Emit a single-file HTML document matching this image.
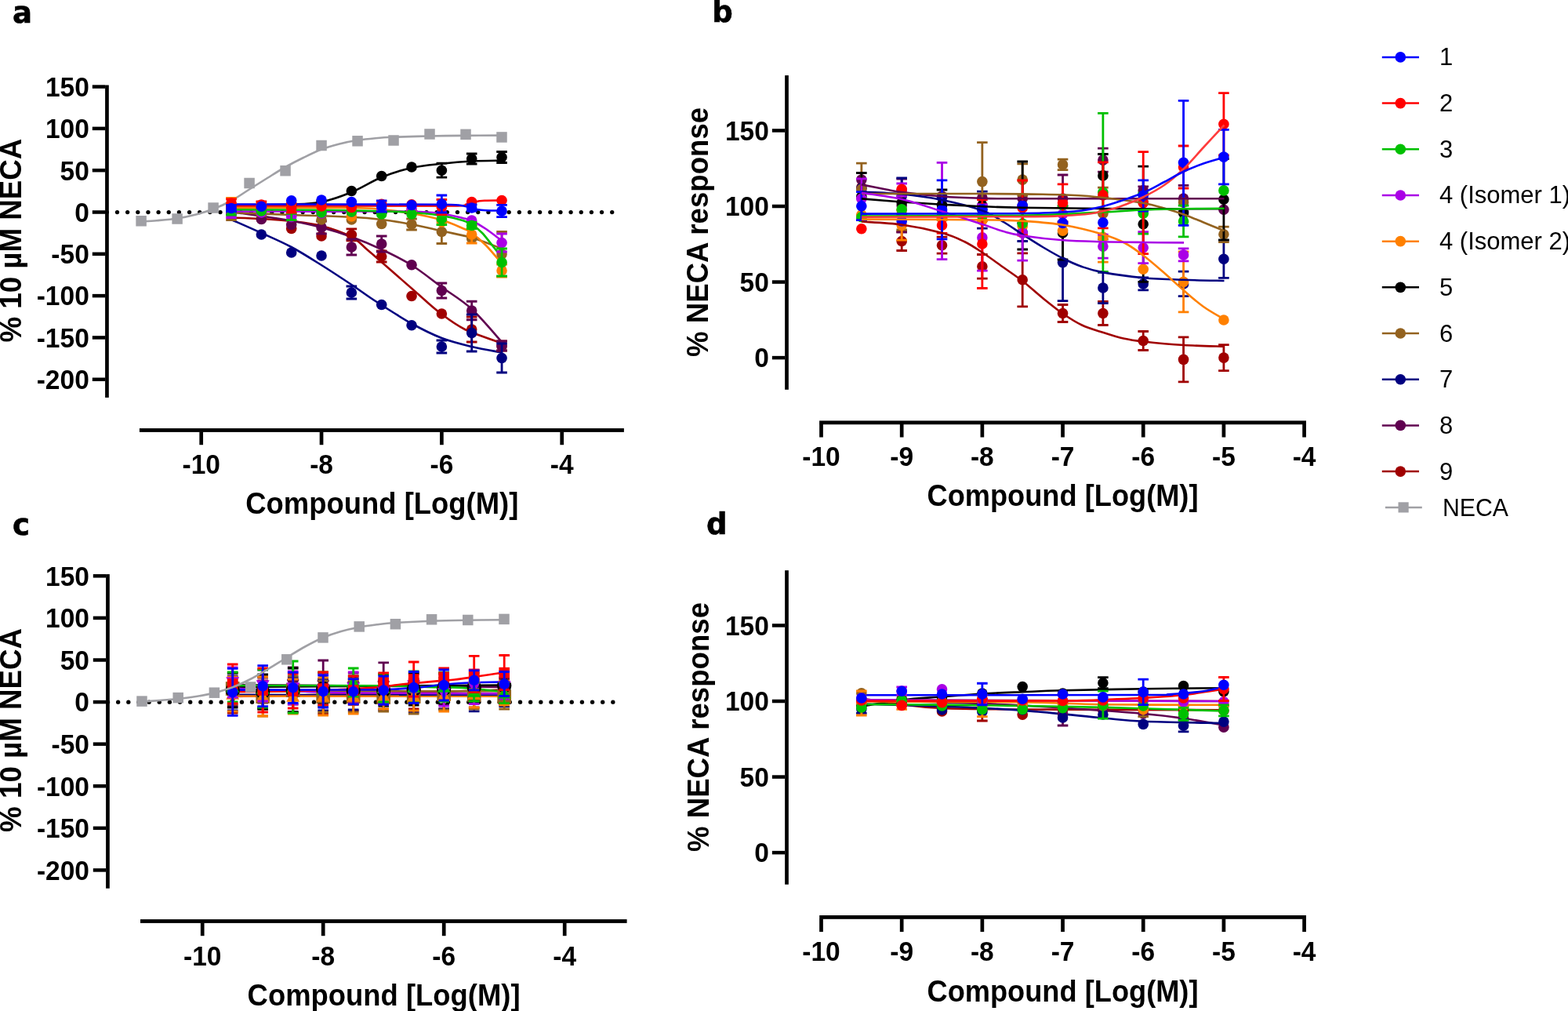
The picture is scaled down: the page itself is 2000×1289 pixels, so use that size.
<!DOCTYPE html><html><head><meta charset="utf-8"><title>Figure</title><style>html,body{margin:0;padding:0;background:#fff;overflow:hidden}svg{display:block}text{font-family:'Liberation Sans', Arial, Helvetica, sans-serif;fill:#000}</style></head><body>
<svg width="2000" height="1289" viewBox="0 0 2000 1289">
<rect width="100%" height="100%" fill="#fff"/>
<text transform="translate(15.9 29) scale(1 1)" font-size="37" font-weight="bold" style="font-family:'DejaVu Sans', sans-serif" stroke="#000" stroke-width="0.6">a</text>
<text transform="translate(908.2 28.4) scale(1 1)" font-size="37" font-weight="bold" style="font-family:'DejaVu Sans', sans-serif" stroke="#000" stroke-width="0.6">b</text>
<text transform="translate(15.9 682.3) scale(1 1)" font-size="37" font-weight="bold" style="font-family:'DejaVu Sans', sans-serif" stroke="#000" stroke-width="0.6">c</text>
<text transform="translate(900.9 681.4) scale(1 1)" font-size="37" font-weight="bold" style="font-family:'DejaVu Sans', sans-serif" stroke="#000" stroke-width="0.6">d</text>
<rect x="134.1" y="108.5" width="4.7" height="398.4" fill="#000"/>
<rect x="117.8" y="108.31" width="16.3" height="4.5" fill="#000"/>
<text transform="translate(113.8 122.91) scale(0.95 1)" font-size="35.3" font-weight="bold" text-anchor="end">150</text>
<rect x="117.8" y="161.62" width="16.3" height="4.5" fill="#000"/>
<text transform="translate(113.8 176.22) scale(0.95 1)" font-size="35.3" font-weight="bold" text-anchor="end">100</text>
<rect x="117.8" y="214.94" width="16.3" height="4.5" fill="#000"/>
<text transform="translate(113.8 229.54) scale(0.95 1)" font-size="35.3" font-weight="bold" text-anchor="end">50</text>
<rect x="117.8" y="268.25" width="16.3" height="4.5" fill="#000"/>
<text transform="translate(113.8 282.86) scale(0.95 1)" font-size="35.3" font-weight="bold" text-anchor="end">0</text>
<rect x="117.8" y="321.56" width="16.3" height="4.5" fill="#000"/>
<text transform="translate(113.8 336.17) scale(0.95 1)" font-size="35.3" font-weight="bold" text-anchor="end">-50</text>
<rect x="117.8" y="374.88" width="16.3" height="4.5" fill="#000"/>
<text transform="translate(113.8 389.49) scale(0.95 1)" font-size="35.3" font-weight="bold" text-anchor="end">-100</text>
<rect x="117.8" y="428.19" width="16.3" height="4.5" fill="#000"/>
<text transform="translate(113.8 442.8) scale(0.95 1)" font-size="35.3" font-weight="bold" text-anchor="end">-150</text>
<rect x="117.8" y="481.51" width="16.3" height="4.5" fill="#000"/>
<text transform="translate(113.8 496.12) scale(0.95 1)" font-size="35.3" font-weight="bold" text-anchor="end">-200</text>
<rect x="177.9" y="546.1" width="618" height="4.8" fill="#000"/>
<rect x="254.35" y="550.4" width="4.7" height="16.8" fill="#000"/>
<text transform="translate(256.7 604.2) scale(0.95 1)" font-size="35.3" font-weight="bold" text-anchor="middle">-10</text>
<rect x="407.69" y="550.4" width="4.7" height="16.8" fill="#000"/>
<text transform="translate(410.04 604.2) scale(0.95 1)" font-size="35.3" font-weight="bold" text-anchor="middle">-8</text>
<rect x="561.03" y="550.4" width="4.7" height="16.8" fill="#000"/>
<text transform="translate(563.38 604.2) scale(0.95 1)" font-size="35.3" font-weight="bold" text-anchor="middle">-6</text>
<rect x="714.37" y="550.4" width="4.7" height="16.8" fill="#000"/>
<text transform="translate(716.72 604.2) scale(0.95 1)" font-size="35.3" font-weight="bold" text-anchor="middle">-4</text>
<text x="487.3" y="654.8" font-size="38.5" font-weight="bold" text-anchor="middle" textLength="348" lengthAdjust="spacingAndGlyphs">Compound [Log(M)]</text>
<text transform="translate(26.7 306.6) rotate(-90)" font-size="38.5" font-weight="bold" text-anchor="middle" textLength="260" lengthAdjust="spacingAndGlyphs">% 10 µM NECA</text>
<circle cx="136.35" cy="270.6" r="2.65"/>
<circle cx="149.5" cy="270.6" r="2.65"/>
<circle cx="162.65" cy="270.6" r="2.65"/>
<circle cx="175.8" cy="270.6" r="2.65"/>
<circle cx="188.95" cy="270.6" r="2.65"/>
<circle cx="202.1" cy="270.6" r="2.65"/>
<circle cx="215.25" cy="270.6" r="2.65"/>
<circle cx="228.4" cy="270.6" r="2.65"/>
<circle cx="241.55" cy="270.6" r="2.65"/>
<circle cx="254.7" cy="270.6" r="2.65"/>
<circle cx="267.85" cy="270.6" r="2.65"/>
<circle cx="281" cy="270.6" r="2.65"/>
<circle cx="294.15" cy="270.6" r="2.65"/>
<circle cx="307.3" cy="270.6" r="2.65"/>
<circle cx="320.45" cy="270.6" r="2.65"/>
<circle cx="333.6" cy="270.6" r="2.65"/>
<circle cx="346.75" cy="270.6" r="2.65"/>
<circle cx="359.9" cy="270.6" r="2.65"/>
<circle cx="373.05" cy="270.6" r="2.65"/>
<circle cx="386.2" cy="270.6" r="2.65"/>
<circle cx="399.35" cy="270.6" r="2.65"/>
<circle cx="412.5" cy="270.6" r="2.65"/>
<circle cx="425.65" cy="270.6" r="2.65"/>
<circle cx="438.8" cy="270.6" r="2.65"/>
<circle cx="451.95" cy="270.6" r="2.65"/>
<circle cx="465.1" cy="270.6" r="2.65"/>
<circle cx="478.25" cy="270.6" r="2.65"/>
<circle cx="491.4" cy="270.6" r="2.65"/>
<circle cx="504.55" cy="270.6" r="2.65"/>
<circle cx="517.7" cy="270.6" r="2.65"/>
<circle cx="530.85" cy="270.6" r="2.65"/>
<circle cx="544" cy="270.6" r="2.65"/>
<circle cx="557.15" cy="270.6" r="2.65"/>
<circle cx="570.3" cy="270.6" r="2.65"/>
<circle cx="583.45" cy="270.6" r="2.65"/>
<circle cx="596.6" cy="270.6" r="2.65"/>
<circle cx="609.75" cy="270.6" r="2.65"/>
<circle cx="622.9" cy="270.6" r="2.65"/>
<circle cx="636.05" cy="270.6" r="2.65"/>
<circle cx="649.2" cy="270.6" r="2.65"/>
<circle cx="662.35" cy="270.6" r="2.65"/>
<circle cx="675.5" cy="270.6" r="2.65"/>
<circle cx="688.65" cy="270.6" r="2.65"/>
<circle cx="701.8" cy="270.6" r="2.65"/>
<circle cx="714.95" cy="270.6" r="2.65"/>
<circle cx="728.1" cy="270.6" r="2.65"/>
<circle cx="741.25" cy="270.6" r="2.65"/>
<circle cx="754.4" cy="270.6" r="2.65"/>
<circle cx="767.55" cy="270.6" r="2.65"/>
<circle cx="780.7" cy="270.6" r="2.65"/>
<rect x="1001.15" y="96.1" width="4.7" height="400.7" fill="#000"/>
<rect x="984.85" y="164.2" width="16.3" height="4.5" fill="#000"/>
<text transform="translate(980.8 178.8) scale(0.95 1)" font-size="35.3" font-weight="bold" text-anchor="end">150</text>
<rect x="984.85" y="260.75" width="16.3" height="4.5" fill="#000"/>
<text transform="translate(980.8 275.36) scale(0.95 1)" font-size="35.3" font-weight="bold" text-anchor="end">100</text>
<rect x="984.85" y="357.3" width="16.3" height="4.5" fill="#000"/>
<text transform="translate(980.8 371.91) scale(0.95 1)" font-size="35.3" font-weight="bold" text-anchor="end">50</text>
<rect x="984.85" y="453.85" width="16.3" height="4.5" fill="#000"/>
<text transform="translate(980.8 468.46) scale(0.95 1)" font-size="35.3" font-weight="bold" text-anchor="end">0</text>
<rect x="1045.1" y="536.4" width="620.9" height="4.8" fill="#000"/>
<rect x="1045.15" y="540.7" width="4.7" height="16.8" fill="#000"/>
<text transform="translate(1047.5 594.2) scale(0.95 1)" font-size="35.3" font-weight="bold" text-anchor="middle">-10</text>
<rect x="1147.83" y="540.7" width="4.7" height="16.8" fill="#000"/>
<text transform="translate(1150.18 594.2) scale(0.95 1)" font-size="35.3" font-weight="bold" text-anchor="middle">-9</text>
<rect x="1250.51" y="540.7" width="4.7" height="16.8" fill="#000"/>
<text transform="translate(1252.86 594.2) scale(0.95 1)" font-size="35.3" font-weight="bold" text-anchor="middle">-8</text>
<rect x="1353.19" y="540.7" width="4.7" height="16.8" fill="#000"/>
<text transform="translate(1355.54 594.2) scale(0.95 1)" font-size="35.3" font-weight="bold" text-anchor="middle">-7</text>
<rect x="1455.87" y="540.7" width="4.7" height="16.8" fill="#000"/>
<text transform="translate(1458.22 594.2) scale(0.95 1)" font-size="35.3" font-weight="bold" text-anchor="middle">-6</text>
<rect x="1558.55" y="540.7" width="4.7" height="16.8" fill="#000"/>
<text transform="translate(1560.9 594.2) scale(0.95 1)" font-size="35.3" font-weight="bold" text-anchor="middle">-5</text>
<rect x="1661.23" y="540.7" width="4.7" height="16.8" fill="#000"/>
<text transform="translate(1663.58 594.2) scale(0.95 1)" font-size="35.3" font-weight="bold" text-anchor="middle">-4</text>
<text x="1355.5" y="645.2" font-size="38.5" font-weight="bold" text-anchor="middle" textLength="346" lengthAdjust="spacingAndGlyphs">Compound [Log(M)]</text>
<text transform="translate(903 295.9) rotate(-90)" font-size="38.5" font-weight="bold" text-anchor="middle" textLength="318" lengthAdjust="spacingAndGlyphs">% NECA response</text>
<rect x="135.1" y="732.1" width="4.7" height="400.6" fill="#000"/>
<rect x="118.8" y="732.07" width="16.3" height="4.5" fill="#000"/>
<text transform="translate(114 746.67) scale(0.95 1)" font-size="35.3" font-weight="bold" text-anchor="end">150</text>
<rect x="118.8" y="785.65" width="16.3" height="4.5" fill="#000"/>
<text transform="translate(114 800.26) scale(0.95 1)" font-size="35.3" font-weight="bold" text-anchor="end">100</text>
<rect x="118.8" y="839.24" width="16.3" height="4.5" fill="#000"/>
<text transform="translate(114 853.84) scale(0.95 1)" font-size="35.3" font-weight="bold" text-anchor="end">50</text>
<rect x="118.8" y="892.82" width="16.3" height="4.5" fill="#000"/>
<text transform="translate(114 907.43) scale(0.95 1)" font-size="35.3" font-weight="bold" text-anchor="end">0</text>
<rect x="118.8" y="946.41" width="16.3" height="4.5" fill="#000"/>
<text transform="translate(114 961.01) scale(0.95 1)" font-size="35.3" font-weight="bold" text-anchor="end">-50</text>
<rect x="118.8" y="999.99" width="16.3" height="4.5" fill="#000"/>
<text transform="translate(114 1014.6) scale(0.95 1)" font-size="35.3" font-weight="bold" text-anchor="end">-100</text>
<rect x="118.8" y="1053.58" width="16.3" height="4.5" fill="#000"/>
<text transform="translate(114 1068.18) scale(0.95 1)" font-size="35.3" font-weight="bold" text-anchor="end">-150</text>
<rect x="118.8" y="1107.16" width="16.3" height="4.5" fill="#000"/>
<text transform="translate(114 1121.77) scale(0.95 1)" font-size="35.3" font-weight="bold" text-anchor="end">-200</text>
<rect x="179" y="1172.1" width="620.6" height="4.8" fill="#000"/>
<rect x="255.85" y="1176.4" width="4.7" height="16.8" fill="#000"/>
<text transform="translate(258.2 1230.5) scale(0.95 1)" font-size="35.3" font-weight="bold" text-anchor="middle">-10</text>
<rect x="409.85" y="1176.4" width="4.7" height="16.8" fill="#000"/>
<text transform="translate(412.2 1230.5) scale(0.95 1)" font-size="35.3" font-weight="bold" text-anchor="middle">-8</text>
<rect x="563.85" y="1176.4" width="4.7" height="16.8" fill="#000"/>
<text transform="translate(566.2 1230.5) scale(0.95 1)" font-size="35.3" font-weight="bold" text-anchor="middle">-6</text>
<rect x="717.85" y="1176.4" width="4.7" height="16.8" fill="#000"/>
<text transform="translate(720.2 1230.5) scale(0.95 1)" font-size="35.3" font-weight="bold" text-anchor="middle">-4</text>
<text x="489.6" y="1281.7" font-size="38.5" font-weight="bold" text-anchor="middle" textLength="348" lengthAdjust="spacingAndGlyphs">Compound [Log(M)]</text>
<text transform="translate(26.7 930.9) rotate(-90)" font-size="38.5" font-weight="bold" text-anchor="middle" textLength="260" lengthAdjust="spacingAndGlyphs">% 10 µM NECA</text>
<circle cx="137.5" cy="895.2" r="2.65"/>
<circle cx="150.65" cy="895.2" r="2.65"/>
<circle cx="163.8" cy="895.2" r="2.65"/>
<circle cx="176.95" cy="895.2" r="2.65"/>
<circle cx="190.1" cy="895.2" r="2.65"/>
<circle cx="203.25" cy="895.2" r="2.65"/>
<circle cx="216.4" cy="895.2" r="2.65"/>
<circle cx="229.55" cy="895.2" r="2.65"/>
<circle cx="242.7" cy="895.2" r="2.65"/>
<circle cx="255.85" cy="895.2" r="2.65"/>
<circle cx="269" cy="895.2" r="2.65"/>
<circle cx="282.15" cy="895.2" r="2.65"/>
<circle cx="295.3" cy="895.2" r="2.65"/>
<circle cx="308.45" cy="895.2" r="2.65"/>
<circle cx="321.6" cy="895.2" r="2.65"/>
<circle cx="334.75" cy="895.2" r="2.65"/>
<circle cx="347.9" cy="895.2" r="2.65"/>
<circle cx="361.05" cy="895.2" r="2.65"/>
<circle cx="374.2" cy="895.2" r="2.65"/>
<circle cx="387.35" cy="895.2" r="2.65"/>
<circle cx="400.5" cy="895.2" r="2.65"/>
<circle cx="413.65" cy="895.2" r="2.65"/>
<circle cx="426.8" cy="895.2" r="2.65"/>
<circle cx="439.95" cy="895.2" r="2.65"/>
<circle cx="453.1" cy="895.2" r="2.65"/>
<circle cx="466.25" cy="895.2" r="2.65"/>
<circle cx="479.4" cy="895.2" r="2.65"/>
<circle cx="492.55" cy="895.2" r="2.65"/>
<circle cx="505.7" cy="895.2" r="2.65"/>
<circle cx="518.85" cy="895.2" r="2.65"/>
<circle cx="532" cy="895.2" r="2.65"/>
<circle cx="545.15" cy="895.2" r="2.65"/>
<circle cx="558.3" cy="895.2" r="2.65"/>
<circle cx="571.45" cy="895.2" r="2.65"/>
<circle cx="584.6" cy="895.2" r="2.65"/>
<circle cx="597.75" cy="895.2" r="2.65"/>
<circle cx="610.9" cy="895.2" r="2.65"/>
<circle cx="624.05" cy="895.2" r="2.65"/>
<circle cx="637.2" cy="895.2" r="2.65"/>
<circle cx="650.35" cy="895.2" r="2.65"/>
<circle cx="663.5" cy="895.2" r="2.65"/>
<circle cx="676.65" cy="895.2" r="2.65"/>
<circle cx="689.8" cy="895.2" r="2.65"/>
<circle cx="702.95" cy="895.2" r="2.65"/>
<circle cx="716.1" cy="895.2" r="2.65"/>
<circle cx="729.25" cy="895.2" r="2.65"/>
<circle cx="742.4" cy="895.2" r="2.65"/>
<circle cx="755.55" cy="895.2" r="2.65"/>
<circle cx="768.7" cy="895.2" r="2.65"/>
<circle cx="781.85" cy="895.2" r="2.65"/>
<rect x="1001.15" y="727.2" width="4.7" height="400.5" fill="#000"/>
<rect x="984.85" y="795.2" width="16.3" height="4.5" fill="#000"/>
<text transform="translate(980.8 809.8) scale(0.95 1)" font-size="35.3" font-weight="bold" text-anchor="end">150</text>
<rect x="984.85" y="891.75" width="16.3" height="4.5" fill="#000"/>
<text transform="translate(980.8 906.35) scale(0.95 1)" font-size="35.3" font-weight="bold" text-anchor="end">100</text>
<rect x="984.85" y="988.3" width="16.3" height="4.5" fill="#000"/>
<text transform="translate(980.8 1002.9) scale(0.95 1)" font-size="35.3" font-weight="bold" text-anchor="end">50</text>
<rect x="984.85" y="1084.85" width="16.3" height="4.5" fill="#000"/>
<text transform="translate(980.8 1099.45) scale(0.95 1)" font-size="35.3" font-weight="bold" text-anchor="end">0</text>
<rect x="1045.2" y="1167" width="620.8" height="4.8" fill="#000"/>
<rect x="1045.15" y="1171.3" width="4.7" height="16.8" fill="#000"/>
<text transform="translate(1047.5 1225.4) scale(0.95 1)" font-size="35.3" font-weight="bold" text-anchor="middle">-10</text>
<rect x="1147.83" y="1171.3" width="4.7" height="16.8" fill="#000"/>
<text transform="translate(1150.18 1225.4) scale(0.95 1)" font-size="35.3" font-weight="bold" text-anchor="middle">-9</text>
<rect x="1250.51" y="1171.3" width="4.7" height="16.8" fill="#000"/>
<text transform="translate(1252.86 1225.4) scale(0.95 1)" font-size="35.3" font-weight="bold" text-anchor="middle">-8</text>
<rect x="1353.19" y="1171.3" width="4.7" height="16.8" fill="#000"/>
<text transform="translate(1355.54 1225.4) scale(0.95 1)" font-size="35.3" font-weight="bold" text-anchor="middle">-7</text>
<rect x="1455.87" y="1171.3" width="4.7" height="16.8" fill="#000"/>
<text transform="translate(1458.22 1225.4) scale(0.95 1)" font-size="35.3" font-weight="bold" text-anchor="middle">-6</text>
<rect x="1558.55" y="1171.3" width="4.7" height="16.8" fill="#000"/>
<text transform="translate(1560.9 1225.4) scale(0.95 1)" font-size="35.3" font-weight="bold" text-anchor="middle">-5</text>
<rect x="1661.23" y="1171.3" width="4.7" height="16.8" fill="#000"/>
<text transform="translate(1663.58 1225.4) scale(0.95 1)" font-size="35.3" font-weight="bold" text-anchor="middle">-4</text>
<text x="1355.5" y="1276.6" font-size="38.5" font-weight="bold" text-anchor="middle" textLength="346" lengthAdjust="spacingAndGlyphs">Compound [Log(M)]</text>
<text transform="translate(904 927) rotate(-90)" font-size="38.5" font-weight="bold" text-anchor="middle" textLength="318" lengthAdjust="spacingAndGlyphs">% NECA response</text>
<path d="M180 282.5 C183.33 282.28 192.33 281.87 200 281.2 C207.67 280.53 217.67 279.78 226 278.5 C234.33 277.22 242.33 275.5 250 273.5 C257.67 271.5 264.5 269.42 272 266.5 C279.5 263.58 287.33 260.17 295 256 C302.67 251.83 310.33 246.33 318 241.5 C325.67 236.67 333.33 231.75 341 227 C348.67 222.25 356.33 217.33 364 213 C371.67 208.67 379.33 204.75 387 201 C394.67 197.25 402.33 193.42 410 190.5 C417.67 187.58 425.33 185.45 433 183.5 C440.67 181.55 448.33 180.02 456 178.8 C463.67 177.58 471.33 176.87 479 176.2 C486.67 175.53 490.5 175.25 502 174.8 C513.5 174.35 532.67 173.82 548 173.5 C563.33 173.18 578.67 173.05 594 172.9 C609.33 172.75 632.33 172.65 640 172.6" stroke="#a0a0a5" stroke-width="2.6" fill="none" stroke-linejoin="round"/>
<rect x="173.35" y="275" width="13.5" height="13.5" fill="#a0a0a5"/>
<rect x="219.34" y="272.25" width="13.5" height="13.5" fill="#a0a0a5"/>
<rect x="265.33" y="258.25" width="13.5" height="13.5" fill="#a0a0a5"/>
<rect x="311.32" y="226.75" width="13.5" height="13.5" fill="#a0a0a5"/>
<rect x="357.31" y="210.95" width="13.5" height="13.5" fill="#a0a0a5"/>
<rect x="403.3" y="178.75" width="13.5" height="13.5" fill="#a0a0a5"/>
<rect x="449.29" y="173.05" width="13.5" height="13.5" fill="#a0a0a5"/>
<rect x="495.28" y="172.25" width="13.5" height="13.5" fill="#a0a0a5"/>
<rect x="541.27" y="164.25" width="13.5" height="13.5" fill="#a0a0a5"/>
<rect x="587.26" y="164.6" width="13.5" height="13.5" fill="#a0a0a5"/>
<rect x="633.25" y="168.2" width="13.5" height="13.5" fill="#a0a0a5"/>
<path d="M295 277.5 C301.38 277.75 320.52 278.25 333.3 279 C346.08 279.75 358.92 280.5 371.7 282 C384.48 283.5 397.22 284.67 410 288 C422.78 291.33 438.73 297 448.4 302 C458.07 307 461.07 312.17 468 318 C474.93 323.83 479.67 328 490 337 C500.33 346 518.33 361.83 530 372 C541.67 382.17 549.5 390 560 398 C570.5 406 579.67 413.42 593 420 C606.33 426.58 632.17 434.58 640 437.5" stroke="#a00000" stroke-width="2.6" fill="none" stroke-linejoin="round"/>
<path d="M295 270 C301.38 270.92 320.52 273.58 333.3 275.5 C346.08 277.42 358.92 279.08 371.7 281.5 C384.48 283.92 397.22 286.58 410 290 C422.78 293.42 435.62 297.33 448.4 302 C461.18 306.67 473.93 312 486.7 318 C499.47 324 512.22 330 525 338 C537.78 346 550.62 356.67 563.4 366 C576.18 375.33 588.93 382.33 601.7 394 C614.47 405.67 633.62 429 640 436" stroke="#600050" stroke-width="2.6" fill="none" stroke-linejoin="round"/>
<path d="M295 280 C301.38 282.83 320.52 291.17 333.3 297 C346.08 302.83 358.92 308.17 371.7 315 C384.48 321.83 397.22 330 410 338 C422.78 346 436.9 355.33 448.4 363 C459.9 370.67 466.23 375.75 479 384 C491.77 392.25 510.93 404.67 525 412.5 C539.07 420.33 550.62 426.08 563.4 431 C576.18 435.92 588.93 438.92 601.7 442 C614.47 445.08 633.62 448.25 640 449.5" stroke="#000080" stroke-width="2.6" fill="none" stroke-linejoin="round"/>
<path d="M295 271 C307.78 271.5 346.13 273.03 371.7 274 C397.27 274.97 429.23 275.8 448.4 276.8 C467.57 277.8 473.93 278.47 486.7 280 C499.47 281.53 512.22 283.58 525 286 C537.78 288.42 550.62 291.67 563.4 294.5 C576.18 297.33 588.93 299.25 601.7 303 C614.47 306.75 633.62 314.67 640 317" stroke="#93621f" stroke-width="2.6" fill="none" stroke-linejoin="round"/>
<path d="M295 261 C307.78 260.92 352.53 261.08 371.7 260.5 C390.87 259.92 397.22 260.08 410 257.5 C422.78 254.92 435.62 250.25 448.4 245 C461.18 239.75 473.93 231.17 486.7 226 C499.47 220.83 512.22 216.88 525 214 C537.78 211.12 550.62 210.12 563.4 208.7 C576.18 207.28 588.93 206.17 601.7 205.5 C614.47 204.83 633.62 204.83 640 204.7" stroke="#000000" stroke-width="2.6" fill="none" stroke-linejoin="round"/>
<path d="M295 264.75 C320.5 264.79 416.05 264.62 448 265 C479.95 265.38 473.87 265.83 486.7 267 C499.53 268.17 512.22 269.75 525 272 C537.78 274.25 552.57 277.33 563.4 280.5 C574.23 283.67 583.62 288.25 590 291 C596.38 293.75 596.7 293.33 601.7 297 C606.7 300.67 613.62 306.5 620 313 C626.38 319.5 636.67 332.17 640 336" stroke="#ff8000" stroke-width="2.6" fill="none" stroke-linejoin="round"/>
<path d="M295 269.5 C314.17 269.52 371.67 269.55 410 269.6 C448.33 269.65 499.43 269.32 525 269.8 C550.57 270.28 552.57 271.13 563.4 272.5 C574.23 273.87 583.62 276.5 590 278 C596.38 279.5 596.7 279.17 601.7 281.5 C606.7 283.83 613.62 287.75 620 292 C626.38 296.25 636.67 304.5 640 307" stroke="#aa00e6" stroke-width="2.6" fill="none" stroke-linejoin="round"/>
<path d="M295 267.25 C314.17 267.34 378.05 267.46 410 267.8 C441.95 268.14 467.53 268.8 486.7 269.3 C505.87 269.8 512.22 269.85 525 270.8 C537.78 271.75 552.57 273.3 563.4 275 C574.23 276.7 583.62 279.17 590 281 C596.38 282.83 597.53 283.33 601.7 286 C605.87 288.67 610.62 292.5 615 297 C619.38 301.5 623.83 307.83 628 313 C632.17 318.17 638 325.5 640 328" stroke="#00c000" stroke-width="2.6" fill="none" stroke-linejoin="round"/>
<path d="M295 262.5 C325.83 262.5 432.5 262.52 480 262.5 C527.5 262.48 560.83 262.73 580 262.4 C599.17 262.07 590.83 261.32 595 260.5 C599.17 259.68 601.17 258.28 605 257.5 C608.83 256.72 612.17 256.13 618 255.8 C623.83 255.47 636.33 255.55 640 255.5" stroke="#ff0000" stroke-width="2.6" fill="none" stroke-linejoin="round"/>
<path d="M295 260.5 C325.83 260.52 435.83 260.55 480 260.6 C524.17 260.65 542.5 260.65 560 260.8 C577.5 260.95 578.67 260.97 585 261.5 C591.33 262.03 594.17 263.08 598 264 C601.83 264.92 604.33 266.28 608 267 C611.67 267.72 614.67 268.05 620 268.3 C625.33 268.55 636.67 268.47 640 268.5" stroke="#0000ff" stroke-width="2.6" fill="none" stroke-linejoin="round"/>
<circle cx="295.03" cy="272" r="6.8" fill="#a00000"/>
<circle cx="333.37" cy="279" r="6.8" fill="#a00000"/>
<circle cx="371.7" cy="291.5" r="6.8" fill="#a00000"/>
<circle cx="410.04" cy="301" r="6.8" fill="#a00000"/>
<path d="M448.38 291.8 V306.8 M441.57 291.8 H455.18 M441.57 306.8 H455.18" stroke="#a00000" stroke-width="2.8" fill="none"/>
<circle cx="448.38" cy="299.3" r="6.8" fill="#a00000"/>
<path d="M486.71 320 V334 M479.91 320 H493.51 M479.91 334 H493.51" stroke="#a00000" stroke-width="2.8" fill="none"/>
<circle cx="486.71" cy="327" r="6.8" fill="#a00000"/>
<circle cx="525.05" cy="377.5" r="6.8" fill="#a00000"/>
<circle cx="563.38" cy="400" r="6.8" fill="#a00000"/>
<path d="M601.71 404 V436 M594.91 404 H608.51 M594.91 436 H608.51" stroke="#a00000" stroke-width="2.8" fill="none"/>
<circle cx="601.71" cy="420" r="6.8" fill="#a00000"/>
<path d="M640.05 435 V447 M633.25 435 H646.85 M633.25 447 H646.85" stroke="#a00000" stroke-width="2.8" fill="none"/>
<circle cx="640.05" cy="441" r="6.8" fill="#a00000"/>
<circle cx="295.03" cy="272" r="6.8" fill="#600050"/>
<circle cx="333.37" cy="279.5" r="6.8" fill="#600050"/>
<circle cx="371.7" cy="286.5" r="6.8" fill="#600050"/>
<path d="M410.04 282 V298 M403.24 282 H416.84 M403.24 298 H416.84" stroke="#600050" stroke-width="2.8" fill="none"/>
<circle cx="410.04" cy="290" r="6.8" fill="#600050"/>
<path d="M448.38 305 V325 M441.57 305 H455.18 M441.57 325 H455.18" stroke="#600050" stroke-width="2.8" fill="none"/>
<circle cx="448.38" cy="315" r="6.8" fill="#600050"/>
<path d="M486.71 301 V321 M479.91 301 H493.51 M479.91 321 H493.51" stroke="#600050" stroke-width="2.8" fill="none"/>
<circle cx="486.71" cy="311" r="6.8" fill="#600050"/>
<circle cx="525.05" cy="337.8" r="6.8" fill="#600050"/>
<path d="M563.38 361 V380 M556.58 361 H570.18 M556.58 380 H570.18" stroke="#600050" stroke-width="2.8" fill="none"/>
<circle cx="563.38" cy="370.5" r="6.8" fill="#600050"/>
<path d="M601.71 384.25 V407.75 M594.91 384.25 H608.51 M594.91 407.75 H608.51" stroke="#600050" stroke-width="2.8" fill="none"/>
<circle cx="601.71" cy="396" r="6.8" fill="#600050"/>
<path d="M640.05 435 V447 M633.25 435 H646.85 M633.25 447 H646.85" stroke="#600050" stroke-width="2.8" fill="none"/>
<circle cx="640.05" cy="441" r="6.8" fill="#600050"/>
<circle cx="295.03" cy="272" r="6.8" fill="#000080"/>
<circle cx="333.37" cy="299" r="6.8" fill="#000080"/>
<circle cx="371.7" cy="322" r="6.8" fill="#000080"/>
<circle cx="410.04" cy="326" r="6.8" fill="#000080"/>
<path d="M448.38 365 V381 M441.57 365 H455.18 M441.57 381 H455.18" stroke="#000080" stroke-width="2.8" fill="none"/>
<circle cx="448.38" cy="373" r="6.8" fill="#000080"/>
<circle cx="486.71" cy="388.5" r="6.8" fill="#000080"/>
<circle cx="525.05" cy="414.8" r="6.8" fill="#000080"/>
<path d="M563.38 434 V450 M556.58 434 H570.18 M556.58 450 H570.18" stroke="#000080" stroke-width="2.8" fill="none"/>
<circle cx="563.38" cy="442" r="6.8" fill="#000080"/>
<path d="M601.71 401 V448 M594.91 401 H608.51 M594.91 448 H608.51" stroke="#000080" stroke-width="2.8" fill="none"/>
<circle cx="601.71" cy="424.5" r="6.8" fill="#000080"/>
<path d="M640.05 438 V475 M633.25 438 H646.85 M633.25 475 H646.85" stroke="#000080" stroke-width="2.8" fill="none"/>
<circle cx="640.05" cy="456.5" r="6.8" fill="#000080"/>
<path d="M295.03 267.5 V280.5 M288.23 267.5 H301.83 M288.23 280.5 H301.83" stroke="#93621f" stroke-width="2.8" fill="none"/>
<circle cx="295.03" cy="274" r="6.8" fill="#93621f"/>
<path d="M333.37 265 V275 M326.57 265 H340.17 M326.57 275 H340.17" stroke="#93621f" stroke-width="2.8" fill="none"/>
<circle cx="333.37" cy="270" r="6.8" fill="#93621f"/>
<circle cx="371.7" cy="273" r="6.8" fill="#93621f"/>
<circle cx="410.04" cy="280" r="6.8" fill="#93621f"/>
<circle cx="448.38" cy="280" r="6.8" fill="#93621f"/>
<circle cx="486.71" cy="285.5" r="6.8" fill="#93621f"/>
<path d="M525.05 279 V293 M518.25 279 H531.85 M518.25 293 H531.85" stroke="#93621f" stroke-width="2.8" fill="none"/>
<circle cx="525.05" cy="286" r="6.8" fill="#93621f"/>
<path d="M563.38 280.5 V310.5 M556.58 280.5 H570.18 M556.58 310.5 H570.18" stroke="#93621f" stroke-width="2.8" fill="none"/>
<circle cx="563.38" cy="295.5" r="6.8" fill="#93621f"/>
<circle cx="601.71" cy="304" r="6.8" fill="#93621f"/>
<path d="M640.05 295.5 V352.5 M633.25 295.5 H646.85 M633.25 352.5 H646.85" stroke="#93621f" stroke-width="2.8" fill="none"/>
<circle cx="640.05" cy="324" r="6.8" fill="#93621f"/>
<circle cx="295.03" cy="264" r="6.8" fill="#000000"/>
<circle cx="333.37" cy="266" r="6.8" fill="#000000"/>
<circle cx="371.7" cy="262" r="6.8" fill="#000000"/>
<circle cx="410.04" cy="257" r="6.8" fill="#000000"/>
<circle cx="448.38" cy="243.5" r="6.8" fill="#000000"/>
<circle cx="486.71" cy="224.5" r="6.8" fill="#000000"/>
<circle cx="525.05" cy="213" r="6.8" fill="#000000"/>
<path d="M563.38 208.2 V226.2 M556.58 208.2 H570.18 M556.58 226.2 H570.18" stroke="#000000" stroke-width="2.8" fill="none"/>
<circle cx="563.38" cy="217.2" r="6.8" fill="#000000"/>
<path d="M601.71 196 V209 M594.91 196 H608.51 M594.91 209 H608.51" stroke="#000000" stroke-width="2.8" fill="none"/>
<circle cx="601.71" cy="202.5" r="6.8" fill="#000000"/>
<path d="M640.05 193.5 V207.5 M633.25 193.5 H646.85 M633.25 207.5 H646.85" stroke="#000000" stroke-width="2.8" fill="none"/>
<circle cx="640.05" cy="200.5" r="6.8" fill="#000000"/>
<path d="M295.03 252.5 V265.5 M288.23 252.5 H301.83 M288.23 265.5 H301.83" stroke="#ff8000" stroke-width="2.8" fill="none"/>
<circle cx="295.03" cy="259" r="6.8" fill="#ff8000"/>
<path d="M333.37 258 V266 M326.57 258 H340.17 M326.57 266 H340.17" stroke="#ff8000" stroke-width="2.8" fill="none"/>
<circle cx="333.37" cy="262" r="6.8" fill="#ff8000"/>
<circle cx="371.7" cy="264" r="6.8" fill="#ff8000"/>
<circle cx="410.04" cy="264" r="6.8" fill="#ff8000"/>
<circle cx="448.38" cy="276" r="6.8" fill="#ff8000"/>
<circle cx="486.71" cy="266" r="6.8" fill="#ff8000"/>
<circle cx="525.05" cy="268" r="6.8" fill="#ff8000"/>
<circle cx="563.38" cy="283" r="6.8" fill="#ff8000"/>
<path d="M601.71 288 V310 M594.91 288 H608.51 M594.91 310 H608.51" stroke="#ff8000" stroke-width="2.8" fill="none"/>
<circle cx="601.71" cy="299" r="6.8" fill="#ff8000"/>
<path d="M640.05 337 V353 M633.25 337 H646.85 M633.25 353 H646.85" stroke="#ff8000" stroke-width="2.8" fill="none"/>
<circle cx="640.05" cy="345" r="6.8" fill="#ff8000"/>
<path d="M295.03 266.5 V277.5 M288.23 266.5 H301.83 M288.23 277.5 H301.83" stroke="#aa00e6" stroke-width="2.8" fill="none"/>
<circle cx="295.03" cy="272" r="6.8" fill="#aa00e6"/>
<circle cx="333.37" cy="271" r="6.8" fill="#aa00e6"/>
<circle cx="371.7" cy="276.4" r="6.8" fill="#aa00e6"/>
<circle cx="410.04" cy="272" r="6.8" fill="#aa00e6"/>
<circle cx="448.38" cy="270" r="6.8" fill="#aa00e6"/>
<circle cx="486.71" cy="268" r="6.8" fill="#aa00e6"/>
<circle cx="525.05" cy="266" r="6.8" fill="#aa00e6"/>
<circle cx="563.38" cy="272" r="6.8" fill="#aa00e6"/>
<circle cx="601.71" cy="281" r="6.8" fill="#aa00e6"/>
<path d="M640.05 298 V321 M633.25 298 H646.85 M633.25 321 H646.85" stroke="#aa00e6" stroke-width="2.8" fill="none"/>
<circle cx="640.05" cy="309.5" r="6.8" fill="#aa00e6"/>
<path d="M295.03 262 V274 M288.23 262 H301.83 M288.23 274 H301.83" stroke="#00c000" stroke-width="2.8" fill="none"/>
<circle cx="295.03" cy="268" r="6.8" fill="#00c000"/>
<circle cx="333.37" cy="269" r="6.8" fill="#00c000"/>
<path d="M371.7 272.3 V280.5 M364.9 272.3 H378.5 M364.9 280.5 H378.5" stroke="#00c000" stroke-width="2.8" fill="none"/>
<circle cx="410.04" cy="271" r="6.8" fill="#00c000"/>
<circle cx="448.38" cy="270" r="6.8" fill="#00c000"/>
<circle cx="486.71" cy="273" r="6.8" fill="#00c000"/>
<circle cx="525.05" cy="273" r="6.8" fill="#00c000"/>
<path d="M563.38 271.5 V286.5 M556.58 271.5 H570.18 M556.58 286.5 H570.18" stroke="#00c000" stroke-width="2.8" fill="none"/>
<circle cx="563.38" cy="279" r="6.8" fill="#00c000"/>
<path d="M601.71 283.5 V291.5 M594.91 283.5 H608.51 M594.91 291.5 H608.51" stroke="#00c000" stroke-width="2.8" fill="none"/>
<circle cx="601.71" cy="287.5" r="6.8" fill="#00c000"/>
<path d="M640.05 317 V352 M633.25 317 H646.85 M633.25 352 H646.85" stroke="#00c000" stroke-width="2.8" fill="none"/>
<circle cx="640.05" cy="334.5" r="6.8" fill="#00c000"/>
<path d="M295.03 254 V264 M288.23 254 H301.83 M288.23 264 H301.83" stroke="#ff0000" stroke-width="2.8" fill="none"/>
<circle cx="295.03" cy="259" r="6.8" fill="#ff0000"/>
<path d="M333.37 257 V265 M326.57 257 H340.17 M326.57 265 H340.17" stroke="#ff0000" stroke-width="2.8" fill="none"/>
<circle cx="333.37" cy="261" r="6.8" fill="#ff0000"/>
<path d="M371.7 259.4 V271 M364.9 259.4 H378.5 M364.9 271 H378.5" stroke="#ff0000" stroke-width="2.8" fill="none"/>
<circle cx="371.7" cy="265.2" r="6.8" fill="#ff0000"/>
<circle cx="410.04" cy="263" r="6.8" fill="#ff0000"/>
<circle cx="448.38" cy="264.5" r="6.8" fill="#ff0000"/>
<circle cx="486.71" cy="260.3" r="6.8" fill="#ff0000"/>
<circle cx="525.05" cy="260.8" r="6.8" fill="#ff0000"/>
<path d="M563.38 254.5 V273.5 M556.58 254.5 H570.18 M556.58 273.5 H570.18" stroke="#ff0000" stroke-width="2.8" fill="none"/>
<circle cx="563.38" cy="264" r="6.8" fill="#ff0000"/>
<circle cx="601.71" cy="257.5" r="6.8" fill="#ff0000"/>
<circle cx="640.05" cy="255.5" r="6.8" fill="#ff0000"/>
<path d="M295.03 261.5 V269.5 M288.23 261.5 H301.83 M288.23 269.5 H301.83" stroke="#0000ff" stroke-width="2.8" fill="none"/>
<circle cx="295.03" cy="265.5" r="6.8" fill="#0000ff"/>
<circle cx="333.37" cy="263.25" r="6.8" fill="#0000ff"/>
<circle cx="371.7" cy="255.75" r="6.8" fill="#0000ff"/>
<circle cx="410.04" cy="255" r="6.8" fill="#0000ff"/>
<circle cx="448.38" cy="257.5" r="6.8" fill="#0000ff"/>
<path d="M486.71 256 V270 M479.91 256 H493.51 M479.91 270 H493.51" stroke="#0000ff" stroke-width="2.8" fill="none"/>
<circle cx="486.71" cy="263" r="6.8" fill="#0000ff"/>
<circle cx="525.05" cy="261.5" r="6.8" fill="#0000ff"/>
<path d="M563.38 249 V271 M556.58 249 H570.18 M556.58 271 H570.18" stroke="#0000ff" stroke-width="2.8" fill="none"/>
<circle cx="563.38" cy="260" r="6.8" fill="#0000ff"/>
<path d="M601.71 261 V269 M594.91 261 H608.51 M594.91 269 H608.51" stroke="#0000ff" stroke-width="2.8" fill="none"/>
<circle cx="601.71" cy="265" r="6.8" fill="#0000ff"/>
<path d="M640.05 261.4 V276.6 M633.25 261.4 H646.85 M633.25 276.6 H646.85" stroke="#0000ff" stroke-width="2.8" fill="none"/>
<circle cx="640.05" cy="269" r="6.8" fill="#0000ff"/>
<circle cx="1098.84" cy="238.9" r="6.8" fill="#a00000"/>
<path d="M1150.18 295.5 V319.5 M1143.38 295.5 H1156.98 M1143.38 319.5 H1156.98" stroke="#a00000" stroke-width="2.8" fill="none"/>
<circle cx="1150.18" cy="307.5" r="6.8" fill="#a00000"/>
<path d="M1201.52 302.2 V323.2 M1194.72 302.2 H1208.32 M1194.72 323.2 H1208.32" stroke="#a00000" stroke-width="2.8" fill="none"/>
<circle cx="1201.52" cy="312.7" r="6.8" fill="#a00000"/>
<path d="M1252.86 324.5 V355.1 M1246.06 324.5 H1259.66 M1246.06 355.1 H1259.66" stroke="#a00000" stroke-width="2.8" fill="none"/>
<circle cx="1252.86" cy="339.8" r="6.8" fill="#a00000"/>
<path d="M1304.2 322.8 V390.8 M1297.4 322.8 H1311 M1297.4 390.8 H1311" stroke="#a00000" stroke-width="2.8" fill="none"/>
<circle cx="1304.2" cy="356.8" r="6.8" fill="#a00000"/>
<path d="M1355.54 388.5 V410.5 M1348.74 388.5 H1362.34 M1348.74 410.5 H1362.34" stroke="#a00000" stroke-width="2.8" fill="none"/>
<circle cx="1355.54" cy="399.5" r="6.8" fill="#a00000"/>
<path d="M1406.88 384.5 V414.5 M1400.08 384.5 H1413.68 M1400.08 414.5 H1413.68" stroke="#a00000" stroke-width="2.8" fill="none"/>
<circle cx="1406.88" cy="399.5" r="6.8" fill="#a00000"/>
<path d="M1458.22 422.5 V446.5 M1451.42 422.5 H1465.02 M1451.42 446.5 H1465.02" stroke="#a00000" stroke-width="2.8" fill="none"/>
<circle cx="1458.22" cy="434.5" r="6.8" fill="#a00000"/>
<path d="M1509.56 429.9 V486.9 M1502.76 429.9 H1516.36 M1502.76 486.9 H1516.36" stroke="#a00000" stroke-width="2.8" fill="none"/>
<circle cx="1509.56" cy="458.4" r="6.8" fill="#a00000"/>
<path d="M1560.9 439.6 V472.6 M1554.1 439.6 H1567.7 M1554.1 472.6 H1567.7" stroke="#a00000" stroke-width="2.8" fill="none"/>
<circle cx="1560.9" cy="456.1" r="6.8" fill="#a00000"/>
<circle cx="1098.84" cy="229" r="6.8" fill="#600050"/>
<path d="M1150.18 228 V296 M1143.38 228 H1156.98 M1143.38 296 H1156.98" stroke="#600050" stroke-width="2.8" fill="none"/>
<circle cx="1150.18" cy="262" r="6.8" fill="#600050"/>
<circle cx="1201.52" cy="250" r="6.8" fill="#600050"/>
<circle cx="1252.86" cy="252" r="6.8" fill="#600050"/>
<circle cx="1304.2" cy="253" r="6.8" fill="#600050"/>
<path d="M1355.54 223 V283 M1348.74 223 H1362.34 M1348.74 283 H1362.34" stroke="#600050" stroke-width="2.8" fill="none"/>
<circle cx="1355.54" cy="253" r="6.8" fill="#600050"/>
<path d="M1406.88 189.1 V219.1 M1400.08 189.1 H1413.68 M1400.08 219.1 H1413.68" stroke="#600050" stroke-width="2.8" fill="none"/>
<circle cx="1406.88" cy="204.1" r="6.8" fill="#600050"/>
<path d="M1458.22 237.9 V247.9 M1451.42 237.9 H1465.02 M1451.42 247.9 H1465.02" stroke="#600050" stroke-width="2.8" fill="none"/>
<circle cx="1458.22" cy="242.9" r="6.8" fill="#600050"/>
<path d="M1509.56 236.4 V269.6 M1502.76 236.4 H1516.36 M1502.76 269.6 H1516.36" stroke="#600050" stroke-width="2.8" fill="none"/>
<circle cx="1509.56" cy="253" r="6.8" fill="#600050"/>
<circle cx="1560.9" cy="267.3" r="6.8" fill="#600050"/>
<circle cx="1098.84" cy="240" r="6.8" fill="#000080"/>
<path d="M1150.18 227 V273 M1143.38 227 H1156.98 M1143.38 273 H1156.98" stroke="#000080" stroke-width="2.8" fill="none"/>
<circle cx="1150.18" cy="250" r="6.8" fill="#000080"/>
<circle cx="1201.52" cy="251.7" r="6.8" fill="#000080"/>
<path d="M1252.86 244.1 V291.1 M1246.06 244.1 H1259.66 M1246.06 291.1 H1259.66" stroke="#000080" stroke-width="2.8" fill="none"/>
<circle cx="1252.86" cy="267.6" r="6.8" fill="#000080"/>
<path d="M1304.2 284.5 V307.5 M1297.4 284.5 H1311 M1297.4 307.5 H1311" stroke="#000080" stroke-width="2.8" fill="none"/>
<circle cx="1304.2" cy="296" r="6.8" fill="#000080"/>
<path d="M1355.54 285.6 V383.6 M1348.74 285.6 H1362.34 M1348.74 383.6 H1362.34" stroke="#000080" stroke-width="2.8" fill="none"/>
<circle cx="1355.54" cy="334.6" r="6.8" fill="#000080"/>
<path d="M1406.88 347.4 V386.6 M1400.08 347.4 H1413.68 M1400.08 386.6 H1413.68" stroke="#000080" stroke-width="2.8" fill="none"/>
<circle cx="1406.88" cy="367" r="6.8" fill="#000080"/>
<path d="M1458.22 353.9 V369.9 M1451.42 353.9 H1465.02 M1451.42 369.9 H1465.02" stroke="#000080" stroke-width="2.8" fill="none"/>
<circle cx="1458.22" cy="361.9" r="6.8" fill="#000080"/>
<path d="M1509.56 346.1 V377.7 M1502.76 346.1 H1516.36 M1502.76 377.7 H1516.36" stroke="#000080" stroke-width="2.8" fill="none"/>
<circle cx="1509.56" cy="361.9" r="6.8" fill="#000080"/>
<path d="M1560.9 306.3 V354.3 M1554.1 306.3 H1567.7 M1554.1 354.3 H1567.7" stroke="#000080" stroke-width="2.8" fill="none"/>
<circle cx="1560.9" cy="330.3" r="6.8" fill="#000080"/>
<path d="M1098.84 208.2 V274.2 M1092.04 208.2 H1105.64 M1092.04 274.2 H1105.64" stroke="#93621f" stroke-width="2.8" fill="none"/>
<circle cx="1098.84" cy="241.2" r="6.8" fill="#93621f"/>
<path d="M1150.18 243 V293 M1143.38 243 H1156.98 M1143.38 293 H1156.98" stroke="#93621f" stroke-width="2.8" fill="none"/>
<circle cx="1150.18" cy="268" r="6.8" fill="#93621f"/>
<circle cx="1201.52" cy="262" r="6.8" fill="#93621f"/>
<path d="M1252.86 181.6 V281.6 M1246.06 181.6 H1259.66 M1246.06 281.6 H1259.66" stroke="#93621f" stroke-width="2.8" fill="none"/>
<circle cx="1252.86" cy="231.6" r="6.8" fill="#93621f"/>
<path d="M1304.2 208.8 V249.4 M1297.4 208.8 H1311 M1297.4 249.4 H1311" stroke="#93621f" stroke-width="2.8" fill="none"/>
<circle cx="1304.2" cy="229.1" r="6.8" fill="#93621f"/>
<path d="M1355.54 203.2 V216.6 M1348.74 203.2 H1362.34 M1348.74 216.6 H1362.34" stroke="#93621f" stroke-width="2.8" fill="none"/>
<circle cx="1355.54" cy="209.9" r="6.8" fill="#93621f"/>
<path d="M1406.88 239.2 V305.2 M1400.08 239.2 H1413.68 M1400.08 305.2 H1413.68" stroke="#93621f" stroke-width="2.8" fill="none"/>
<circle cx="1406.88" cy="272.2" r="6.8" fill="#93621f"/>
<circle cx="1458.22" cy="258" r="6.8" fill="#93621f"/>
<circle cx="1509.56" cy="258.1" r="6.8" fill="#93621f"/>
<path d="M1560.9 289.05 V308.55 M1554.1 289.05 H1567.7 M1554.1 308.55 H1567.7" stroke="#93621f" stroke-width="2.8" fill="none"/>
<circle cx="1560.9" cy="298.8" r="6.8" fill="#93621f"/>
<path d="M1098.84 220.5 V280.5 M1092.04 220.5 H1105.64 M1092.04 280.5 H1105.64" stroke="#000000" stroke-width="2.8" fill="none"/>
<circle cx="1098.84" cy="250.5" r="6.8" fill="#000000"/>
<circle cx="1150.18" cy="258.6" r="6.8" fill="#000000"/>
<path d="M1201.52 242 V280 M1194.72 242 H1208.32 M1194.72 280 H1208.32" stroke="#000000" stroke-width="2.8" fill="none"/>
<circle cx="1201.52" cy="261" r="6.8" fill="#000000"/>
<circle cx="1252.86" cy="262" r="6.8" fill="#000000"/>
<path d="M1304.2 206 V318 M1297.4 206 H1311 M1297.4 318 H1311" stroke="#000000" stroke-width="2.8" fill="none"/>
<circle cx="1304.2" cy="262" r="6.8" fill="#000000"/>
<path d="M1355.54 263 V331 M1348.74 263 H1362.34 M1348.74 331 H1362.34" stroke="#000000" stroke-width="2.8" fill="none"/>
<circle cx="1355.54" cy="297" r="6.8" fill="#000000"/>
<path d="M1406.88 196.5 V251.3 M1400.08 196.5 H1413.68 M1400.08 251.3 H1413.68" stroke="#000000" stroke-width="2.8" fill="none"/>
<circle cx="1406.88" cy="223.9" r="6.8" fill="#000000"/>
<path d="M1458.22 212.2 V359.4 M1451.42 212.2 H1465.02 M1451.42 359.4 H1465.02" stroke="#000000" stroke-width="2.8" fill="none"/>
<circle cx="1458.22" cy="285.8" r="6.8" fill="#000000"/>
<circle cx="1509.56" cy="271.7" r="6.8" fill="#000000"/>
<path d="M1560.9 202.7 V305.9 M1554.1 202.7 H1567.7 M1554.1 305.9 H1567.7" stroke="#000000" stroke-width="2.8" fill="none"/>
<circle cx="1560.9" cy="254.3" r="6.8" fill="#000000"/>
<circle cx="1098.84" cy="273.8" r="6.8" fill="#ff8000"/>
<path d="M1150.18 268.1 V306.1 M1143.38 268.1 H1156.98 M1143.38 306.1 H1156.98" stroke="#ff8000" stroke-width="2.8" fill="none"/>
<circle cx="1150.18" cy="287.1" r="6.8" fill="#ff8000"/>
<circle cx="1201.52" cy="278.4" r="6.8" fill="#ff8000"/>
<circle cx="1252.86" cy="281" r="6.8" fill="#ff8000"/>
<circle cx="1304.2" cy="288.5" r="6.8" fill="#ff8000"/>
<circle cx="1355.54" cy="294.3" r="6.8" fill="#ff8000"/>
<path d="M1406.88 270.2 V334.2 M1400.08 270.2 H1413.68 M1400.08 334.2 H1413.68" stroke="#ff8000" stroke-width="2.8" fill="none"/>
<circle cx="1406.88" cy="302.2" r="6.8" fill="#ff8000"/>
<circle cx="1458.22" cy="343.2" r="6.8" fill="#ff8000"/>
<path d="M1509.56 321 V397.8 M1502.76 321 H1516.36 M1502.76 397.8 H1516.36" stroke="#ff8000" stroke-width="2.8" fill="none"/>
<circle cx="1509.56" cy="359.4" r="6.8" fill="#ff8000"/>
<circle cx="1560.9" cy="408" r="6.8" fill="#ff8000"/>
<path d="M1098.84 227.8 V279 M1092.04 227.8 H1105.64 M1092.04 279 H1105.64" stroke="#aa00e6" stroke-width="2.8" fill="none"/>
<circle cx="1098.84" cy="253.4" r="6.8" fill="#aa00e6"/>
<path d="M1150.18 234 V250 M1143.38 234 H1156.98 M1143.38 250 H1156.98" stroke="#aa00e6" stroke-width="2.8" fill="none"/>
<circle cx="1150.18" cy="242" r="6.8" fill="#aa00e6"/>
<path d="M1201.52 207.4 V330.6 M1194.72 207.4 H1208.32 M1194.72 330.6 H1208.32" stroke="#aa00e6" stroke-width="2.8" fill="none"/>
<circle cx="1201.52" cy="269" r="6.8" fill="#aa00e6"/>
<path d="M1252.86 260.6 V345.2 M1246.06 260.6 H1259.66 M1246.06 345.2 H1259.66" stroke="#aa00e6" stroke-width="2.8" fill="none"/>
<circle cx="1252.86" cy="302.9" r="6.8" fill="#aa00e6"/>
<path d="M1304.2 262.1 V332.1 M1297.4 262.1 H1311 M1297.4 332.1 H1311" stroke="#aa00e6" stroke-width="2.8" fill="none"/>
<circle cx="1304.2" cy="297.1" r="6.8" fill="#aa00e6"/>
<circle cx="1355.54" cy="273" r="6.8" fill="#aa00e6"/>
<path d="M1406.88 299.1 V329.1 M1400.08 299.1 H1413.68 M1400.08 329.1 H1413.68" stroke="#aa00e6" stroke-width="2.8" fill="none"/>
<circle cx="1406.88" cy="314.1" r="6.8" fill="#aa00e6"/>
<path d="M1458.22 295.7 V335.7 M1451.42 295.7 H1465.02 M1451.42 335.7 H1465.02" stroke="#aa00e6" stroke-width="2.8" fill="none"/>
<circle cx="1458.22" cy="315.7" r="6.8" fill="#aa00e6"/>
<path d="M1509.56 316.9 V332.9 M1502.76 316.9 H1516.36 M1502.76 332.9 H1516.36" stroke="#aa00e6" stroke-width="2.8" fill="none"/>
<circle cx="1509.56" cy="324.9" r="6.8" fill="#aa00e6"/>
<circle cx="1098.84" cy="276.7" r="6.8" fill="#00c000"/>
<circle cx="1150.18" cy="266.8" r="6.8" fill="#00c000"/>
<circle cx="1201.52" cy="272" r="6.8" fill="#00c000"/>
<circle cx="1252.86" cy="275" r="6.8" fill="#00c000"/>
<circle cx="1304.2" cy="285" r="6.8" fill="#00c000"/>
<circle cx="1355.54" cy="261.7" r="6.8" fill="#00c000"/>
<path d="M1406.88 144.4 V346.4 M1400.08 144.4 H1413.68 M1400.08 346.4 H1413.68" stroke="#00c000" stroke-width="2.8" fill="none"/>
<circle cx="1406.88" cy="245.4" r="6.8" fill="#00c000"/>
<path d="M1458.22 246.2 V298.2 M1451.42 246.2 H1465.02 M1451.42 298.2 H1465.02" stroke="#00c000" stroke-width="2.8" fill="none"/>
<circle cx="1458.22" cy="272.2" r="6.8" fill="#00c000"/>
<path d="M1509.56 262.15 V301.85 M1502.76 262.15 H1516.36 M1502.76 301.85 H1516.36" stroke="#00c000" stroke-width="2.8" fill="none"/>
<circle cx="1509.56" cy="282" r="6.8" fill="#00c000"/>
<circle cx="1560.9" cy="242.9" r="6.8" fill="#00c000"/>
<circle cx="1098.84" cy="291.8" r="6.8" fill="#ff0000"/>
<circle cx="1150.18" cy="241.2" r="6.8" fill="#ff0000"/>
<path d="M1201.52 276.8 V297.4 M1194.72 276.8 H1208.32 M1194.72 297.4 H1208.32" stroke="#ff0000" stroke-width="2.8" fill="none"/>
<circle cx="1201.52" cy="287.1" r="6.8" fill="#ff0000"/>
<path d="M1252.86 254.5 V367.5 M1246.06 254.5 H1259.66 M1246.06 367.5 H1259.66" stroke="#ff0000" stroke-width="2.8" fill="none"/>
<circle cx="1252.86" cy="311" r="6.8" fill="#ff0000"/>
<path d="M1304.2 230 V300 M1297.4 230 H1311 M1297.4 300 H1311" stroke="#ff0000" stroke-width="2.8" fill="none"/>
<circle cx="1304.2" cy="265" r="6.8" fill="#ff0000"/>
<path d="M1355.54 234.8 V282.8 M1348.74 234.8 H1362.34 M1348.74 282.8 H1362.34" stroke="#ff0000" stroke-width="2.8" fill="none"/>
<circle cx="1355.54" cy="258.8" r="6.8" fill="#ff0000"/>
<path d="M1406.88 206.9 V290.9 M1400.08 206.9 H1413.68 M1400.08 290.9 H1413.68" stroke="#ff0000" stroke-width="2.8" fill="none"/>
<circle cx="1406.88" cy="248.9" r="6.8" fill="#ff0000"/>
<path d="M1458.22 193.7 V323.7 M1451.42 193.7 H1465.02 M1451.42 323.7 H1465.02" stroke="#ff0000" stroke-width="2.8" fill="none"/>
<circle cx="1458.22" cy="258.7" r="6.8" fill="#ff0000"/>
<path d="M1509.56 186 V240 M1502.76 186 H1516.36 M1502.76 240 H1516.36" stroke="#ff0000" stroke-width="2.8" fill="none"/>
<circle cx="1509.56" cy="213" r="6.8" fill="#ff0000"/>
<path d="M1560.9 118.6 V197.8 M1554.1 118.6 H1567.7 M1554.1 197.8 H1567.7" stroke="#ff0000" stroke-width="2.8" fill="none"/>
<circle cx="1560.9" cy="158.2" r="6.8" fill="#ff0000"/>
<path d="M1098.84 244.7 V280.7 M1092.04 244.7 H1105.64 M1092.04 280.7 H1105.64" stroke="#0000ff" stroke-width="2.8" fill="none"/>
<circle cx="1098.84" cy="262.7" r="6.8" fill="#0000ff"/>
<circle cx="1150.18" cy="281.9" r="6.8" fill="#0000ff"/>
<path d="M1201.52 229.9 V304.9 M1194.72 229.9 H1208.32 M1194.72 304.9 H1208.32" stroke="#0000ff" stroke-width="2.8" fill="none"/>
<circle cx="1201.52" cy="267.4" r="6.8" fill="#0000ff"/>
<circle cx="1252.86" cy="266.8" r="6.8" fill="#0000ff"/>
<circle cx="1304.2" cy="262.3" r="6.8" fill="#0000ff"/>
<circle cx="1355.54" cy="284.4" r="6.8" fill="#0000ff"/>
<circle cx="1406.88" cy="283.8" r="6.8" fill="#0000ff"/>
<path d="M1458.22 229.8 V269 M1451.42 229.8 H1465.02 M1451.42 269 H1465.02" stroke="#0000ff" stroke-width="2.8" fill="none"/>
<circle cx="1458.22" cy="249.4" r="6.8" fill="#0000ff"/>
<path d="M1509.56 128.3 V287.3 M1502.76 128.3 H1516.36 M1502.76 287.3 H1516.36" stroke="#0000ff" stroke-width="2.8" fill="none"/>
<circle cx="1509.56" cy="207.3" r="6.8" fill="#0000ff"/>
<path d="M1560.9 165.3 V234.9 M1554.1 165.3 H1567.7 M1554.1 234.9 H1567.7" stroke="#0000ff" stroke-width="2.8" fill="none"/>
<circle cx="1560.9" cy="200.1" r="6.8" fill="#0000ff"/>
<path d="M1098.9 282.5 C1107.47 283.17 1133.17 284.08 1150.3 286.5 C1167.43 288.92 1188.42 293.42 1201.7 297 C1214.98 300.58 1221.43 303.83 1230 308 C1238.57 312.17 1244.77 316.5 1253.1 322 C1261.43 327.5 1271.43 334.92 1280 341 C1288.57 347.08 1296.17 352 1304.5 358.5 C1312.83 365 1321.43 373.08 1330 380 C1338.57 386.92 1347.57 394.25 1355.9 400 C1364.23 405.75 1371.43 410.5 1380 414.5 C1388.57 418.5 1398.47 421.17 1407.3 424 C1416.13 426.83 1424.43 429.58 1433 431.5 C1441.57 433.42 1445.85 434.08 1458.7 435.5 C1471.55 436.92 1492.97 438.95 1510.1 440 C1527.23 441.05 1552.93 441.5 1561.5 441.8" stroke="#a00000" stroke-width="2.6" fill="none" stroke-linejoin="round"/>
<path d="M1098.9 235.4 C1104.08 236.42 1121.43 239.9 1130 241.5 C1138.57 243.1 1138.35 243.5 1150.3 245 C1162.25 246.5 1184.57 249.2 1201.7 250.5 C1218.83 251.8 1236.72 252.33 1253.1 252.8 C1269.48 253.27 1248.6 253.23 1300 253.3 C1351.4 253.37 1517.92 253.22 1561.5 253.2" stroke="#600050" stroke-width="2.6" fill="none" stroke-linejoin="round"/>
<path d="M1098.9 244.7 C1107.47 245.17 1133.17 245.78 1150.3 247.5 C1167.43 249.22 1184.57 251.5 1201.7 255 C1218.83 258.5 1240.05 263.83 1253.1 268.5 C1266.15 273.17 1271.43 277.92 1280 283 C1288.57 288.08 1296.17 293.67 1304.5 299 C1312.83 304.33 1321.43 309.92 1330 315 C1338.57 320.08 1347.57 325.33 1355.9 329.5 C1364.23 333.67 1371.43 337.02 1380 340 C1388.57 342.98 1394.18 345.03 1407.3 347.4 C1420.42 349.77 1441.57 352.63 1458.7 354.2 C1475.83 355.77 1492.97 356.17 1510.1 356.8 C1527.23 357.43 1552.93 357.8 1561.5 358" stroke="#000080" stroke-width="2.6" fill="none" stroke-linejoin="round"/>
<path d="M1098.9 247 C1124.6 247 1214.58 246.87 1253.1 247 C1291.62 247.13 1308.85 247.38 1330 247.8 C1351.15 248.22 1365 248.55 1380 249.5 C1395 250.45 1406.88 251.92 1420 253.5 C1433.12 255.08 1447.87 257 1458.7 259 C1469.53 261 1476.43 263.08 1485 265.5 C1493.57 267.92 1501.77 270.5 1510.1 273.5 C1518.43 276.5 1526.43 280.03 1535 283.5 C1543.57 286.97 1557.08 292.5 1561.5 294.3" stroke="#93621f" stroke-width="2.6" fill="none" stroke-linejoin="round"/>
<path d="M1098.9 253.4 C1107.47 254.08 1133.17 256.27 1150.3 257.5 C1167.43 258.73 1184.57 259.85 1201.7 260.8 C1218.83 261.75 1235.97 262.53 1253.1 263.2 C1270.23 263.87 1278.8 264.33 1304.5 264.8 C1330.2 265.27 1364.47 265.75 1407.3 266 C1450.13 266.25 1535.8 266.25 1561.5 266.3" stroke="#000000" stroke-width="2.6" fill="none" stroke-linejoin="round"/>
<path d="M1098.9 279.6 C1116.03 279.67 1173.18 279.85 1201.7 280 C1230.22 280.15 1252.87 280.22 1270 280.5 C1287.13 280.78 1290.18 280.65 1304.5 281.7 C1318.82 282.75 1338.77 283.92 1355.9 286.8 C1373.03 289.68 1394.12 295.13 1407.3 299 C1420.48 302.87 1426.43 305.5 1435 310 C1443.57 314.5 1450.37 319.67 1458.7 326 C1467.03 332.33 1476.43 340.58 1485 348 C1493.57 355.42 1501.77 363.33 1510.1 370.5 C1518.43 377.67 1526.43 384.88 1535 391 C1543.57 397.12 1557.08 404.5 1561.5 407.2" stroke="#ff8000" stroke-width="2.6" fill="none" stroke-linejoin="round"/>
<path d="M1098.9 245.8 C1107.47 247.17 1133.17 250.05 1150.3 254 C1167.43 257.95 1184.57 264.17 1201.7 269.5 C1218.83 274.83 1240.05 281.75 1253.1 286 C1266.15 290.25 1271.43 292.58 1280 295 C1288.57 297.42 1291.85 298.62 1304.5 300.5 C1317.15 302.38 1338.77 305.02 1355.9 306.3 C1373.03 307.58 1390.17 307.75 1407.3 308.2 C1424.43 308.65 1441.57 308.8 1458.7 309 C1475.83 309.2 1501.53 309.33 1510.1 309.4" stroke="#aa00e6" stroke-width="2.6" fill="none" stroke-linejoin="round"/>
<path d="M1098.9 275.5 C1124.58 275.42 1214.48 275.25 1253 275 C1291.52 274.75 1304.28 274.75 1330 274 C1355.72 273.25 1385.85 271.58 1407.3 270.5 C1428.75 269.42 1441.57 268.22 1458.7 267.5 C1475.83 266.78 1492.97 266.5 1510.1 266.2 C1527.23 265.9 1552.93 265.78 1561.5 265.7" stroke="#00c000" stroke-width="2.6" fill="none" stroke-linejoin="round"/>
<path d="M1098.9 276.7 C1133.17 276.62 1261.67 276.48 1304.5 276.2 C1347.33 275.92 1341.65 275.62 1355.9 275 C1370.15 274.38 1379.32 274 1390 272.5 C1400.68 271 1411.67 268.25 1420 266 C1428.33 263.75 1433.55 261.5 1440 259 C1446.45 256.5 1451.2 254.83 1458.7 251 C1466.2 247.17 1476.43 242 1485 236 C1493.57 230 1501.77 223 1510.1 215 C1518.43 207 1526.43 197.25 1535 188 C1543.57 178.75 1557.08 164.25 1561.5 159.5" stroke="#ff3c3c" stroke-width="2.6" fill="none" stroke-linejoin="round"/>
<path d="M1098.9 272.6 C1124.58 272.57 1214.48 272.58 1253 272.4 C1291.52 272.22 1308.83 272.15 1330 271.5 C1351.17 270.85 1367.12 269.92 1380 268.5 C1392.88 267.08 1398.97 265.08 1407.3 263 C1415.63 260.92 1421.43 258.92 1430 256 C1438.57 253.08 1449.53 249.5 1458.7 245.5 C1467.87 241.5 1476.43 236.5 1485 232 C1493.57 227.5 1501.77 222.42 1510.1 218.5 C1518.43 214.58 1526.43 211.5 1535 208.5 C1543.57 205.5 1557.08 201.83 1561.5 200.5" stroke="#0000ff" stroke-width="2.6" fill="none" stroke-linejoin="round"/>
<path d="M296.7 888 C322.25 887.5 392.25 886.42 450 885 C507.75 883.58 611 880.42 643.2 879.5" stroke="#a00000" stroke-width="2.6" fill="none" stroke-linejoin="round"/>
<path d="M296.7 873 C322.25 873.25 392.25 874.02 450 874.5 C507.75 874.98 611 875.67 643.2 875.9" stroke="#600050" stroke-width="2.6" fill="none" stroke-linejoin="round"/>
<path d="M296.7 885.8 L643.2 886.5" stroke="#000080" stroke-width="2.6" fill="none" stroke-linejoin="round"/>
<path d="M296.7 881.5 L643.2 881.3" stroke="#93621f" stroke-width="2.6" fill="none" stroke-linejoin="round"/>
<path d="M296.7 876 C322.25 875.83 392.25 875.42 450 875 C507.75 874.58 611 873.75 643.2 873.5" stroke="#000000" stroke-width="2.6" fill="none" stroke-linejoin="round"/>
<path d="M296.7 887.5 L643.2 887.8" stroke="#ff8000" stroke-width="2.6" fill="none" stroke-linejoin="round"/>
<path d="M296.7 877.5 C309.53 878.08 348.03 880 373.7 881 C399.37 882 405.78 882.97 450.7 883.5 C495.62 884.03 611.12 884.08 643.2 884.2" stroke="#aa00e6" stroke-width="2.6" fill="none" stroke-linejoin="round"/>
<path d="M296.7 874 C328.78 874.05 447.65 873.98 489.2 874.3 C530.75 874.62 530.03 875.52 546 875.9 C561.97 876.28 572.67 875.97 585 876.6 C597.33 877.23 610.3 878.8 620 879.7 C629.7 880.6 639.33 881.62 643.2 882" stroke="#00c000" stroke-width="2.6" fill="none" stroke-linejoin="round"/>
<path d="M296.7 882 C303.12 881.95 315.95 882.03 335.2 881.7 C354.45 881.37 389.73 880.78 412.2 880 C434.67 879.22 457.17 877.75 470 877 C482.83 876.25 482.53 876.2 489.2 875.5 C495.87 874.8 503.58 873.52 510 872.8 C516.42 872.08 519.37 871.98 527.7 871.2 C536.03 870.42 551.28 868.88 560 868.1 C568.72 867.32 572.55 867.35 580 866.5 C587.45 865.65 594.17 864.55 604.7 863 C615.23 861.45 636.78 858.17 643.2 857.2" stroke="#ff0000" stroke-width="2.6" fill="none" stroke-linejoin="round"/>
<path d="M296.7 879.6 C322.25 879.58 416.12 879.63 450 879.5 C483.88 879.37 487.05 879.22 500 878.8 C512.95 878.38 516.67 878 527.7 877 C538.73 876 556.65 873.77 566.2 872.8 C575.75 871.83 575.2 871.72 585 871.2 C594.8 870.68 615.3 869.98 625 869.7 C634.7 869.42 640.17 869.53 643.2 869.5" stroke="#0000ff" stroke-width="2.6" fill="none" stroke-linejoin="round"/>
<path d="M296.7 869 V909 M289.9 869 H303.5 M289.9 909 H303.5" stroke="#a00000" stroke-width="2.8" fill="none"/>
<path d="M296.7 897.5 L305.2 882.2 L288.2 882.2 Z" fill="#a00000"/>
<path d="M335.2 868 V904 M328.4 868 H342 M328.4 904 H342" stroke="#a00000" stroke-width="2.8" fill="none"/>
<path d="M335.2 894.5 L343.7 879.2 L326.7 879.2 Z" fill="#a00000"/>
<path d="M373.7 868 V908 M366.9 868 H380.5 M366.9 908 H380.5" stroke="#a00000" stroke-width="2.8" fill="none"/>
<path d="M373.7 896.5 L382.2 881.2 L365.2 881.2 Z" fill="#a00000"/>
<path d="M412.2 866 V910 M405.4 866 H419 M405.4 910 H419" stroke="#a00000" stroke-width="2.8" fill="none"/>
<path d="M412.2 896.5 L420.7 881.2 L403.7 881.2 Z" fill="#a00000"/>
<path d="M450.7 866 V906 M443.9 866 H457.5 M443.9 906 H457.5" stroke="#a00000" stroke-width="2.8" fill="none"/>
<path d="M450.7 894.5 L459.2 879.2 L442.2 879.2 Z" fill="#a00000"/>
<path d="M489.2 868 V904 M482.4 868 H496 M482.4 904 H496" stroke="#a00000" stroke-width="2.8" fill="none"/>
<path d="M489.2 894.5 L497.7 879.2 L480.7 879.2 Z" fill="#a00000"/>
<path d="M527.7 868 V904 M520.9 868 H534.5 M520.9 904 H534.5" stroke="#a00000" stroke-width="2.8" fill="none"/>
<path d="M527.7 894.5 L536.2 879.2 L519.2 879.2 Z" fill="#a00000"/>
<path d="M566.2 864 V904 M559.4 864 H573 M559.4 904 H573" stroke="#a00000" stroke-width="2.8" fill="none"/>
<path d="M566.2 892.5 L574.7 877.2 L557.7 877.2 Z" fill="#a00000"/>
<path d="M604.7 866 V902 M597.9 866 H611.5 M597.9 902 H611.5" stroke="#a00000" stroke-width="2.8" fill="none"/>
<path d="M604.7 892.5 L613.2 877.2 L596.2 877.2 Z" fill="#a00000"/>
<path d="M643.2 866 V898 M636.4 866 H650 M636.4 898 H650" stroke="#a00000" stroke-width="2.8" fill="none"/>
<path d="M643.2 890.5 L651.7 875.2 L634.7 875.2 Z" fill="#a00000"/>
<path d="M296.7 864 V900 M289.9 864 H303.5 M289.9 900 H303.5" stroke="#600050" stroke-width="2.8" fill="none"/>
<path d="M288.88 882 L292.79 875.35 L300.61 875.35 L304.52 882 L300.61 888.65 L292.79 888.65 Z" fill="#600050"/>
<path d="M335.2 864 V896 M328.4 864 H342 M328.4 896 H342" stroke="#600050" stroke-width="2.8" fill="none"/>
<path d="M327.38 880 L331.29 873.35 L339.11 873.35 L343.02 880 L339.11 886.65 L331.29 886.65 Z" fill="#600050"/>
<path d="M373.7 851 V883 M366.9 851 H380.5 M366.9 883 H380.5" stroke="#600050" stroke-width="2.8" fill="none"/>
<path d="M365.88 867 L369.79 860.35 L377.61 860.35 L381.52 867 L377.61 873.65 L369.79 873.65 Z" fill="#600050"/>
<path d="M412.2 842 V894 M405.4 842 H419 M405.4 894 H419" stroke="#600050" stroke-width="2.8" fill="none"/>
<path d="M404.38 868 L408.29 861.35 L416.11 861.35 L420.02 868 L416.11 874.65 L408.29 874.65 Z" fill="#600050"/>
<path d="M450.7 858 V882 M443.9 858 H457.5 M443.9 882 H457.5" stroke="#600050" stroke-width="2.8" fill="none"/>
<path d="M442.88 870 L446.79 863.35 L454.61 863.35 L458.52 870 L454.61 876.65 L446.79 876.65 Z" fill="#600050"/>
<path d="M489.2 844.9 V892.9 M482.4 844.9 H496 M482.4 892.9 H496" stroke="#600050" stroke-width="2.8" fill="none"/>
<path d="M481.38 868.9 L485.29 862.25 L493.11 862.25 L497.02 868.9 L493.11 875.55 L485.29 875.55 Z" fill="#600050"/>
<path d="M527.7 858 V882 M520.9 858 H534.5 M520.9 882 H534.5" stroke="#600050" stroke-width="2.8" fill="none"/>
<path d="M519.88 870 L523.79 863.35 L531.61 863.35 L535.52 870 L531.61 876.65 L523.79 876.65 Z" fill="#600050"/>
<path d="M566.2 860 V884 M559.4 860 H573 M559.4 884 H573" stroke="#600050" stroke-width="2.8" fill="none"/>
<path d="M558.38 872 L562.29 865.35 L570.11 865.35 L574.02 872 L570.11 878.65 L562.29 878.65 Z" fill="#600050"/>
<path d="M604.7 862 V886 M597.9 862 H611.5 M597.9 886 H611.5" stroke="#600050" stroke-width="2.8" fill="none"/>
<path d="M596.88 874 L600.79 867.35 L608.61 867.35 L612.52 874 L608.61 880.65 L600.79 880.65 Z" fill="#600050"/>
<path d="M643.2 864 V884 M636.4 864 H650 M636.4 884 H650" stroke="#600050" stroke-width="2.8" fill="none"/>
<path d="M635.38 874 L639.29 867.35 L647.11 867.35 L651.02 874 L647.11 880.65 L639.29 880.65 Z" fill="#600050"/>
<path d="M296.7 862 V906 M289.9 862 H303.5 M289.9 906 H303.5" stroke="#000080" stroke-width="2.8" fill="none"/>
<path d="M288.88 884 L292.79 877.35 L300.61 877.35 L304.52 884 L300.61 890.65 L292.79 890.65 Z" fill="#000080"/>
<path d="M335.2 862 V902 M328.4 862 H342 M328.4 902 H342" stroke="#000080" stroke-width="2.8" fill="none"/>
<path d="M327.38 882 L331.29 875.35 L339.11 875.35 L343.02 882 L339.11 888.65 L331.29 888.65 Z" fill="#000080"/>
<path d="M373.7 864 V908 M366.9 864 H380.5 M366.9 908 H380.5" stroke="#000080" stroke-width="2.8" fill="none"/>
<path d="M365.88 886 L369.79 879.35 L377.61 879.35 L381.52 886 L377.61 892.65 L369.79 892.65 Z" fill="#000080"/>
<path d="M412.2 866 V906 M405.4 866 H419 M405.4 906 H419" stroke="#000080" stroke-width="2.8" fill="none"/>
<path d="M404.38 886 L408.29 879.35 L416.11 879.35 L420.02 886 L416.11 892.65 L408.29 892.65 Z" fill="#000080"/>
<path d="M450.7 865 V905 M443.9 865 H457.5 M443.9 905 H457.5" stroke="#000080" stroke-width="2.8" fill="none"/>
<path d="M442.88 885 L446.79 878.35 L454.61 878.35 L458.52 885 L454.61 891.65 L446.79 891.65 Z" fill="#000080"/>
<path d="M489.2 870 V906 M482.4 870 H496 M482.4 906 H496" stroke="#000080" stroke-width="2.8" fill="none"/>
<path d="M481.38 888 L485.29 881.35 L493.11 881.35 L497.02 888 L493.11 894.65 L485.29 894.65 Z" fill="#000080"/>
<path d="M527.7 872 V908 M520.9 872 H534.5 M520.9 908 H534.5" stroke="#000080" stroke-width="2.8" fill="none"/>
<path d="M519.88 890 L523.79 883.35 L531.61 883.35 L535.52 890 L531.61 896.65 L523.79 896.65 Z" fill="#000080"/>
<path d="M566.2 872 V904 M559.4 872 H573 M559.4 904 H573" stroke="#000080" stroke-width="2.8" fill="none"/>
<path d="M558.38 888 L562.29 881.35 L570.11 881.35 L574.02 888 L570.11 894.65 L562.29 894.65 Z" fill="#000080"/>
<path d="M604.7 875.9 V906.9 M597.9 875.9 H611.5 M597.9 906.9 H611.5" stroke="#000080" stroke-width="2.8" fill="none"/>
<path d="M596.88 891.4 L600.79 884.75 L608.61 884.75 L612.52 891.4 L608.61 898.05 L600.79 898.05 Z" fill="#000080"/>
<path d="M643.2 884.5 V900.5 M636.4 884.5 H650 M636.4 900.5 H650" stroke="#000080" stroke-width="2.8" fill="none"/>
<path d="M635.38 892.5 L639.29 885.85 L647.11 885.85 L651.02 892.5 L647.11 899.15 L639.29 899.15 Z" fill="#000080"/>
<path d="M296.7 858 V898 M289.9 858 H303.5 M289.9 898 H303.5" stroke="#93621f" stroke-width="2.8" fill="none"/>
<rect x="287.86" y="869.16" width="17.68" height="17.68" fill="#93621f"/>
<path d="M335.2 863 V913 M328.4 863 H342 M328.4 913 H342" stroke="#93621f" stroke-width="2.8" fill="none"/>
<rect x="326.36" y="879.16" width="17.68" height="17.68" fill="#93621f"/>
<path d="M373.7 862 V898 M366.9 862 H380.5 M366.9 898 H380.5" stroke="#93621f" stroke-width="2.8" fill="none"/>
<rect x="364.86" y="871.16" width="17.68" height="17.68" fill="#93621f"/>
<path d="M412.2 868 V908 M405.4 868 H419 M405.4 908 H419" stroke="#93621f" stroke-width="2.8" fill="none"/>
<rect x="403.36" y="879.16" width="17.68" height="17.68" fill="#93621f"/>
<path d="M450.7 868 V908 M443.9 868 H457.5 M443.9 908 H457.5" stroke="#93621f" stroke-width="2.8" fill="none"/>
<rect x="441.86" y="879.16" width="17.68" height="17.68" fill="#93621f"/>
<path d="M489.2 871 V907 M482.4 871 H496 M482.4 907 H496" stroke="#93621f" stroke-width="2.8" fill="none"/>
<rect x="480.36" y="880.16" width="17.68" height="17.68" fill="#93621f"/>
<path d="M527.7 866 V910 M520.9 866 H534.5 M520.9 910 H534.5" stroke="#93621f" stroke-width="2.8" fill="none"/>
<rect x="518.86" y="879.16" width="17.68" height="17.68" fill="#93621f"/>
<path d="M566.2 865 V905 M559.4 865 H573 M559.4 905 H573" stroke="#93621f" stroke-width="2.8" fill="none"/>
<rect x="557.36" y="876.16" width="17.68" height="17.68" fill="#93621f"/>
<path d="M604.7 868 V904 M597.9 868 H611.5 M597.9 904 H611.5" stroke="#93621f" stroke-width="2.8" fill="none"/>
<rect x="595.86" y="877.16" width="17.68" height="17.68" fill="#93621f"/>
<path d="M643.2 872 V904 M636.4 872 H650 M636.4 904 H650" stroke="#93621f" stroke-width="2.8" fill="none"/>
<rect x="634.36" y="879.16" width="17.68" height="17.68" fill="#93621f"/>
<path d="M296.7 858 V902 M289.9 858 H303.5 M289.9 902 H303.5" stroke="#000000" stroke-width="2.8" fill="none"/>
<circle cx="296.7" cy="880" r="8" fill="none" stroke="#000000" stroke-width="2.4"/>
<path d="M335.2 860 V904 M328.4 860 H342 M328.4 904 H342" stroke="#000000" stroke-width="2.8" fill="none"/>
<circle cx="335.2" cy="882" r="8" fill="none" stroke="#000000" stroke-width="2.4"/>
<path d="M373.7 852 V908 M366.9 852 H380.5 M366.9 908 H380.5" stroke="#000000" stroke-width="2.8" fill="none"/>
<circle cx="373.7" cy="880" r="8" fill="none" stroke="#000000" stroke-width="2.4"/>
<path d="M412.2 858 V898 M405.4 858 H419 M405.4 898 H419" stroke="#000000" stroke-width="2.8" fill="none"/>
<circle cx="412.2" cy="878" r="8" fill="none" stroke="#000000" stroke-width="2.4"/>
<path d="M450.7 862 V898 M443.9 862 H457.5 M443.9 898 H457.5" stroke="#000000" stroke-width="2.8" fill="none"/>
<circle cx="450.7" cy="880" r="8" fill="none" stroke="#000000" stroke-width="2.4"/>
<path d="M489.2 860 V900 M482.4 860 H496 M482.4 900 H496" stroke="#000000" stroke-width="2.8" fill="none"/>
<circle cx="489.2" cy="880" r="8" fill="none" stroke="#000000" stroke-width="2.4"/>
<path d="M527.7 859 V899 M520.9 859 H534.5 M520.9 899 H534.5" stroke="#000000" stroke-width="2.8" fill="none"/>
<circle cx="527.7" cy="879" r="8" fill="none" stroke="#000000" stroke-width="2.4"/>
<path d="M566.2 858 V898 M559.4 858 H573 M559.4 898 H573" stroke="#000000" stroke-width="2.8" fill="none"/>
<circle cx="566.2" cy="878" r="8" fill="none" stroke="#000000" stroke-width="2.4"/>
<path d="M604.7 858 V894 M597.9 858 H611.5 M597.9 894 H611.5" stroke="#000000" stroke-width="2.8" fill="none"/>
<circle cx="604.7" cy="876" r="8" fill="none" stroke="#000000" stroke-width="2.4"/>
<path d="M643.2 858.3 V890.3 M636.4 858.3 H650 M636.4 890.3 H650" stroke="#000000" stroke-width="2.8" fill="none"/>
<circle cx="643.2" cy="874.3" r="8" fill="none" stroke="#000000" stroke-width="2.4"/>
<path d="M296.7 863 V907 M289.9 863 H303.5 M289.9 907 H303.5" stroke="#ff8000" stroke-width="2.8" fill="none"/>
<path d="M296.7 876.5 L305.2 891.8 L288.2 891.8 Z" fill="#ff8000"/>
<path d="M335.2 863 V913 M328.4 863 H342 M328.4 913 H342" stroke="#ff8000" stroke-width="2.8" fill="none"/>
<path d="M335.2 879.5 L343.7 894.8 L326.7 894.8 Z" fill="#ff8000"/>
<path d="M373.7 866 V910 M366.9 866 H380.5 M366.9 910 H380.5" stroke="#ff8000" stroke-width="2.8" fill="none"/>
<path d="M373.7 879.5 L382.2 894.8 L365.2 894.8 Z" fill="#ff8000"/>
<path d="M412.2 864 V912 M405.4 864 H419 M405.4 912 H419" stroke="#ff8000" stroke-width="2.8" fill="none"/>
<path d="M412.2 879.5 L420.7 894.8 L403.7 894.8 Z" fill="#ff8000"/>
<path d="M450.7 866 V910 M443.9 866 H457.5 M443.9 910 H457.5" stroke="#ff8000" stroke-width="2.8" fill="none"/>
<path d="M450.7 879.5 L459.2 894.8 L442.2 894.8 Z" fill="#ff8000"/>
<path d="M489.2 872 V904 M482.4 872 H496 M482.4 904 H496" stroke="#ff8000" stroke-width="2.8" fill="none"/>
<path d="M489.2 879.5 L497.7 894.8 L480.7 894.8 Z" fill="#ff8000"/>
<path d="M527.7 870 V906 M520.9 870 H534.5 M520.9 906 H534.5" stroke="#ff8000" stroke-width="2.8" fill="none"/>
<path d="M527.7 879.5 L536.2 894.8 L519.2 894.8 Z" fill="#ff8000"/>
<path d="M566.2 867 V907 M559.4 867 H573 M559.4 907 H573" stroke="#ff8000" stroke-width="2.8" fill="none"/>
<path d="M566.2 878.5 L574.7 893.8 L557.7 893.8 Z" fill="#ff8000"/>
<path d="M604.7 868.2 V902.2 M597.9 868.2 H611.5 M597.9 902.2 H611.5" stroke="#ff8000" stroke-width="2.8" fill="none"/>
<path d="M604.7 876.7 L613.2 892 L596.2 892 Z" fill="#ff8000"/>
<path d="M643.2 868.1 V899.1 M636.4 868.1 H650 M636.4 899.1 H650" stroke="#ff8000" stroke-width="2.8" fill="none"/>
<path d="M643.2 875.1 L651.7 890.4 L634.7 890.4 Z" fill="#ff8000"/>
<path d="M296.7 851 V889 M289.9 851 H303.5 M289.9 889 H303.5" stroke="#aa00e6" stroke-width="2.8" fill="none"/>
<path d="M296.7 878.5 L305.2 863.2 L288.2 863.2 Z" fill="#aa00e6"/>
<path d="M335.2 854 V894 M328.4 854 H342 M328.4 894 H342" stroke="#aa00e6" stroke-width="2.8" fill="none"/>
<path d="M335.2 882.5 L343.7 867.2 L326.7 867.2 Z" fill="#aa00e6"/>
<path d="M373.7 856 V898 M366.9 856 H380.5 M366.9 898 H380.5" stroke="#aa00e6" stroke-width="2.8" fill="none"/>
<path d="M373.7 885.5 L382.2 870.2 L365.2 870.2 Z" fill="#aa00e6"/>
<path d="M412.2 860 V900 M405.4 860 H419 M405.4 900 H419" stroke="#aa00e6" stroke-width="2.8" fill="none"/>
<path d="M412.2 888.5 L420.7 873.2 L403.7 873.2 Z" fill="#aa00e6"/>
<path d="M450.7 857 V897 M443.9 857 H457.5 M443.9 897 H457.5" stroke="#aa00e6" stroke-width="2.8" fill="none"/>
<path d="M450.7 885.5 L459.2 870.2 L442.2 870.2 Z" fill="#aa00e6"/>
<path d="M489.2 866 V898 M482.4 866 H496 M482.4 898 H496" stroke="#aa00e6" stroke-width="2.8" fill="none"/>
<path d="M489.2 890.5 L497.7 875.2 L480.7 875.2 Z" fill="#aa00e6"/>
<path d="M527.7 866 V882 M520.9 866 H534.5 M520.9 882 H534.5" stroke="#aa00e6" stroke-width="2.8" fill="none"/>
<path d="M527.7 882.5 L536.2 867.2 L519.2 867.2 Z" fill="#aa00e6"/>
<path d="M566.2 868 V900 M559.4 868 H573 M559.4 900 H573" stroke="#aa00e6" stroke-width="2.8" fill="none"/>
<path d="M566.2 892.5 L574.7 877.2 L557.7 877.2 Z" fill="#aa00e6"/>
<path d="M604.7 854.2 V897.6 M597.9 854.2 H611.5 M597.9 897.6 H611.5" stroke="#aa00e6" stroke-width="2.8" fill="none"/>
<path d="M604.7 884.4 L613.2 869.1 L596.2 869.1 Z" fill="#aa00e6"/>
<path d="M643.2 859 V891 M636.4 859 H650 M636.4 891 H650" stroke="#aa00e6" stroke-width="2.8" fill="none"/>
<path d="M643.2 883.5 L651.7 868.2 L634.7 868.2 Z" fill="#aa00e6"/>
<path d="M296.7 857 V895 M289.9 857 H303.5 M289.9 895 H303.5" stroke="#00c000" stroke-width="2.8" fill="none"/>
<path d="M296.7 867.5 L305.2 882.8 L288.2 882.8 Z" fill="#00c000"/>
<path d="M335.2 854 V902 M328.4 854 H342 M328.4 902 H342" stroke="#00c000" stroke-width="2.8" fill="none"/>
<path d="M335.2 869.5 L343.7 884.8 L326.7 884.8 Z" fill="#00c000"/>
<path d="M373.7 843 V909 M366.9 843 H380.5 M366.9 909 H380.5" stroke="#00c000" stroke-width="2.8" fill="none"/>
<path d="M373.7 867.5 L382.2 882.8 L365.2 882.8 Z" fill="#00c000"/>
<path d="M412.2 857 V901 M405.4 857 H419 M405.4 901 H419" stroke="#00c000" stroke-width="2.8" fill="none"/>
<path d="M412.2 870.5 L420.7 885.8 L403.7 885.8 Z" fill="#00c000"/>
<path d="M450.7 852 V888 M443.9 852 H457.5 M443.9 888 H457.5" stroke="#00c000" stroke-width="2.8" fill="none"/>
<path d="M450.7 861.5 L459.2 876.8 L442.2 876.8 Z" fill="#00c000"/>
<path d="M489.2 859 V895 M482.4 859 H496 M482.4 895 H496" stroke="#00c000" stroke-width="2.8" fill="none"/>
<path d="M489.2 868.5 L497.7 883.8 L480.7 883.8 Z" fill="#00c000"/>
<path d="M527.7 856 V896 M520.9 856 H534.5 M520.9 896 H534.5" stroke="#00c000" stroke-width="2.8" fill="none"/>
<path d="M527.7 867.5 L536.2 882.8 L519.2 882.8 Z" fill="#00c000"/>
<path d="M566.2 857.6 V894.4 M559.4 857.6 H573 M559.4 894.4 H573" stroke="#00c000" stroke-width="2.8" fill="none"/>
<path d="M566.2 867.5 L574.7 882.8 L557.7 882.8 Z" fill="#00c000"/>
<path d="M604.7 870 V894 M597.9 870 H611.5 M597.9 894 H611.5" stroke="#00c000" stroke-width="2.8" fill="none"/>
<path d="M604.7 873.5 L613.2 888.8 L596.2 888.8 Z" fill="#00c000"/>
<path d="M643.2 870.6 V896.6 M636.4 870.6 H650 M636.4 896.6 H650" stroke="#00c000" stroke-width="2.8" fill="none"/>
<path d="M643.2 875.1 L651.7 890.4 L634.7 890.4 Z" fill="#00c000"/>
<path d="M296.7 847 V897 M289.9 847 H303.5 M289.9 897 H303.5" stroke="#ff0000" stroke-width="2.8" fill="none"/>
<rect x="289.9" y="865.2" width="13.6" height="13.6" fill="#ff0000"/>
<path d="M335.2 852 V908 M328.4 852 H342 M328.4 908 H342" stroke="#ff0000" stroke-width="2.8" fill="none"/>
<rect x="328.4" y="873.2" width="13.6" height="13.6" fill="#ff0000"/>
<path d="M373.7 859 V903 M366.9 859 H380.5 M366.9 903 H380.5" stroke="#ff0000" stroke-width="2.8" fill="none"/>
<rect x="366.9" y="874.2" width="13.6" height="13.6" fill="#ff0000"/>
<path d="M412.2 857 V899 M405.4 857 H419 M405.4 899 H419" stroke="#ff0000" stroke-width="2.8" fill="none"/>
<rect x="405.4" y="871.2" width="13.6" height="13.6" fill="#ff0000"/>
<path d="M450.7 862 V898 M443.9 862 H457.5 M443.9 898 H457.5" stroke="#ff0000" stroke-width="2.8" fill="none"/>
<rect x="443.9" y="873.2" width="13.6" height="13.6" fill="#ff0000"/>
<path d="M489.2 858 V882 M482.4 858 H496 M482.4 882 H496" stroke="#ff0000" stroke-width="2.8" fill="none"/>
<rect x="482.4" y="863.2" width="13.6" height="13.6" fill="#ff0000"/>
<path d="M527.7 844 V888 M520.9 844 H534.5 M520.9 888 H534.5" stroke="#ff0000" stroke-width="2.8" fill="none"/>
<rect x="520.9" y="859.2" width="13.6" height="13.6" fill="#ff0000"/>
<path d="M566.2 851.8 V875 M559.4 851.8 H573 M559.4 875 H573" stroke="#ff0000" stroke-width="2.8" fill="none"/>
<rect x="559.4" y="856.6" width="13.6" height="13.6" fill="#ff0000"/>
<path d="M604.7 836.3 V882.7 M597.9 836.3 H611.5 M597.9 882.7 H611.5" stroke="#ff0000" stroke-width="2.8" fill="none"/>
<rect x="597.9" y="852.7" width="13.6" height="13.6" fill="#ff0000"/>
<path d="M643.2 835.5 V879.7 M636.4 835.5 H650 M636.4 879.7 H650" stroke="#ff0000" stroke-width="2.8" fill="none"/>
<rect x="636.4" y="850.8" width="13.6" height="13.6" fill="#ff0000"/>
<path d="M296.7 852.4 V912.4 M289.9 852.4 H303.5 M289.9 912.4 H303.5" stroke="#0000ff" stroke-width="2.8" fill="none"/>
<circle cx="296.7" cy="882.4" r="6.8" fill="#0000ff"/>
<path d="M335.2 848.7 V900.7 M328.4 848.7 H342 M328.4 900.7 H342" stroke="#0000ff" stroke-width="2.8" fill="none"/>
<circle cx="335.2" cy="874.7" r="6.8" fill="#0000ff"/>
<path d="M373.7 857.3 V896.3 M366.9 857.3 H380.5 M366.9 896.3 H380.5" stroke="#0000ff" stroke-width="2.8" fill="none"/>
<circle cx="373.7" cy="876.8" r="6.8" fill="#0000ff"/>
<path d="M412.2 861 V902 M405.4 861 H419 M405.4 902 H419" stroke="#0000ff" stroke-width="2.8" fill="none"/>
<circle cx="412.2" cy="881.5" r="6.8" fill="#0000ff"/>
<path d="M450.7 865.8 V897.8 M443.9 865.8 H457.5 M443.9 897.8 H457.5" stroke="#0000ff" stroke-width="2.8" fill="none"/>
<circle cx="450.7" cy="881.8" r="6.8" fill="#0000ff"/>
<path d="M489.2 862.1 V898.1 M482.4 862.1 H496 M482.4 898.1 H496" stroke="#0000ff" stroke-width="2.8" fill="none"/>
<circle cx="489.2" cy="880.1" r="6.8" fill="#0000ff"/>
<path d="M527.7 856.5 V896.5 M520.9 856.5 H534.5 M520.9 896.5 H534.5" stroke="#0000ff" stroke-width="2.8" fill="none"/>
<circle cx="527.7" cy="876.5" r="6.8" fill="#0000ff"/>
<path d="M566.2 854 V893 M559.4 854 H573 M559.4 893 H573" stroke="#0000ff" stroke-width="2.8" fill="none"/>
<circle cx="566.2" cy="873.5" r="6.8" fill="#0000ff"/>
<path d="M604.7 854.8 V879.8 M597.9 854.8 H611.5 M597.9 879.8 H611.5" stroke="#0000ff" stroke-width="2.8" fill="none"/>
<circle cx="604.7" cy="867.3" r="6.8" fill="#0000ff"/>
<path d="M643.2 856.5 V887.5 M636.4 856.5 H650 M636.4 887.5 H650" stroke="#0000ff" stroke-width="2.8" fill="none"/>
<circle cx="643.2" cy="872" r="6.8" fill="#0000ff"/>
<path d="M181 894.6 C184.83 894.33 196.33 893.6 204 893 C211.67 892.4 219.33 891.83 227 891 C234.67 890.17 242.33 889.25 250 888 C257.67 886.75 265.33 885.42 273 883.5 C280.67 881.58 288.3 879.42 296 876.5 C303.7 873.58 311.53 869.92 319.2 866 C326.87 862.08 334.27 857.58 342 853 C349.73 848.42 357.77 843.25 365.6 838.5 C373.43 833.75 381.27 828.75 389 824.5 C396.73 820.25 404.33 816.25 412 813 C419.67 809.75 427.37 807.22 435 805 C442.63 802.78 450.13 801.15 457.8 799.7 C465.47 798.25 473.25 797.25 481 796.3 C488.75 795.35 492.78 794.77 504.3 794 C515.82 793.23 534.7 792.25 550.1 791.7 C565.5 791.15 581.23 790.93 596.7 790.7 C612.17 790.47 635.2 790.37 642.9 790.3" stroke="#a0a0a5" stroke-width="2.6" fill="none" stroke-linejoin="round"/>
<rect x="174.25" y="887.35" width="13.5" height="13.5" fill="#a0a0a5"/>
<rect x="220.45" y="882.85" width="13.5" height="13.5" fill="#a0a0a5"/>
<rect x="266.65" y="876.45" width="13.5" height="13.5" fill="#a0a0a5"/>
<rect x="312.85" y="869.25" width="13.5" height="13.5" fill="#a0a0a5"/>
<rect x="359.05" y="834.05" width="13.5" height="13.5" fill="#a0a0a5"/>
<rect x="405.25" y="806.15" width="13.5" height="13.5" fill="#a0a0a5"/>
<rect x="451.45" y="792.15" width="13.5" height="13.5" fill="#a0a0a5"/>
<rect x="497.65" y="788.95" width="13.5" height="13.5" fill="#a0a0a5"/>
<rect x="543.85" y="783.05" width="13.5" height="13.5" fill="#a0a0a5"/>
<rect x="590.05" y="783.75" width="13.5" height="13.5" fill="#a0a0a5"/>
<rect x="636.25" y="782.65" width="13.5" height="13.5" fill="#a0a0a5"/>
<path d="M1098.9 890.6 C1107.42 891.83 1132.87 895.93 1150 898 C1167.13 900.07 1175.95 901.92 1201.7 903 C1227.45 904.08 1244.53 904.13 1304.5 904.5 C1364.47 904.87 1518.67 905.08 1561.5 905.2" stroke="#a00000" stroke-width="2.6" fill="none" stroke-linejoin="round"/>
<path d="M1098.9 893 C1124.6 893.67 1210.27 895.42 1253.1 897 C1295.93 898.58 1321.63 900.33 1355.9 902.5 C1390.17 904.67 1433 907.75 1458.7 910 C1484.4 912.25 1492.97 913.55 1510.1 916 C1527.23 918.45 1552.93 923.25 1561.5 924.7" stroke="#600050" stroke-width="2.6" fill="none" stroke-linejoin="round"/>
<path d="M1098.9 897.5 C1108.75 897.78 1133.48 898.38 1158 899.2 C1182.52 900.02 1219 901.08 1246 902.4 C1273 903.72 1293.12 904.92 1320 907.1 C1346.88 909.28 1384.18 913.38 1407.3 915.5 C1430.42 917.62 1433 918.72 1458.7 919.8 C1484.4 920.88 1544.37 921.63 1561.5 922" stroke="#000080" stroke-width="2.6" fill="none" stroke-linejoin="round"/>
<path d="M1098.9 892.4 L1561.5 894" stroke="#93621f" stroke-width="2.6" fill="none" stroke-linejoin="round"/>
<path d="M1098.9 900.6 C1107.47 899.25 1133.17 894.55 1150.3 892.5 C1167.43 890.45 1184.57 889.63 1201.7 888.3 C1218.83 886.97 1235.97 885.52 1253.1 884.5 C1270.23 883.48 1287.37 882.9 1304.5 882.2 C1321.63 881.5 1330.2 880.95 1355.9 880.3 C1381.6 879.65 1424.43 878.82 1458.7 878.3 C1492.97 877.78 1544.37 877.38 1561.5 877.2" stroke="#000000" stroke-width="2.6" fill="none" stroke-linejoin="round"/>
<path d="M1098.9 894.4 C1132.42 894.53 1248.6 894.57 1300 895.2 C1351.4 895.83 1363.72 897.6 1407.3 898.2 C1450.88 898.8 1535.8 898.7 1561.5 898.8" stroke="#ff8000" stroke-width="2.6" fill="none" stroke-linejoin="round"/>
<path d="M1098.9 892.4 L1561.5 894" stroke="#aa00e6" stroke-width="2.6" fill="none" stroke-linejoin="round"/>
<path d="M1098.9 898 C1124.08 898.2 1198.6 898.55 1250 899.2 C1301.4 899.85 1355.38 900.68 1407.3 901.9 C1459.22 903.12 1535.8 905.73 1561.5 906.5" stroke="#00c000" stroke-width="2.6" fill="none" stroke-linejoin="round"/>
<path d="M1098.9 893.7 C1141.73 893.65 1302.38 893.77 1355.9 893.4 C1409.42 893.03 1402.87 892.1 1420 891.5 C1437.13 890.9 1443.68 890.72 1458.7 889.8 C1473.72 888.88 1492.97 887.88 1510.1 886 C1527.23 884.12 1552.93 879.75 1561.5 878.5" stroke="#ff0000" stroke-width="2.6" fill="none" stroke-linejoin="round"/>
<path d="M1098.9 886.3 C1158.87 886.25 1393.52 886.17 1458.7 886 C1523.88 885.83 1480.62 885.72 1490 885.3 C1499.38 884.88 1506.67 884.3 1515 883.5 C1523.33 882.7 1532.25 881.87 1540 880.5 C1547.75 879.13 1557.92 876.17 1561.5 875.3" stroke="#0000ff" stroke-width="2.6" fill="none" stroke-linejoin="round"/>
<circle cx="1098.84" cy="893" r="6.8" fill="#a00000"/>
<circle cx="1150.18" cy="895" r="6.8" fill="#a00000"/>
<circle cx="1201.52" cy="906.9" r="6.8" fill="#a00000"/>
<path d="M1252.86 891 V919 M1246.06 891 H1259.66 M1246.06 919 H1259.66" stroke="#a00000" stroke-width="2.8" fill="none"/>
<circle cx="1252.86" cy="905" r="6.8" fill="#a00000"/>
<circle cx="1304.2" cy="911.25" r="6.8" fill="#a00000"/>
<circle cx="1355.54" cy="905" r="6.8" fill="#a00000"/>
<circle cx="1406.88" cy="905" r="6.8" fill="#a00000"/>
<circle cx="1458.22" cy="905" r="6.8" fill="#a00000"/>
<circle cx="1509.56" cy="906" r="6.8" fill="#a00000"/>
<circle cx="1560.9" cy="906" r="6.8" fill="#a00000"/>
<circle cx="1098.84" cy="895" r="6.8" fill="#600050"/>
<circle cx="1150.18" cy="893" r="6.8" fill="#600050"/>
<circle cx="1201.52" cy="895" r="6.8" fill="#600050"/>
<circle cx="1252.86" cy="897" r="6.8" fill="#600050"/>
<circle cx="1304.2" cy="900" r="6.8" fill="#600050"/>
<path d="M1355.54 895 V925 M1348.74 895 H1362.34 M1348.74 925 H1362.34" stroke="#600050" stroke-width="2.8" fill="none"/>
<circle cx="1355.54" cy="910" r="6.8" fill="#600050"/>
<circle cx="1406.88" cy="905" r="6.8" fill="#600050"/>
<circle cx="1458.22" cy="910" r="6.8" fill="#600050"/>
<circle cx="1509.56" cy="915" r="6.8" fill="#600050"/>
<circle cx="1560.9" cy="927.3" r="6.8" fill="#600050"/>
<path d="M1098.84 898.6 V909.4 M1092.04 898.6 H1105.64 M1092.04 909.4 H1105.64" stroke="#000080" stroke-width="2.8" fill="none"/>
<circle cx="1098.84" cy="904" r="6.8" fill="#000080"/>
<circle cx="1150.18" cy="898" r="6.8" fill="#000080"/>
<circle cx="1201.52" cy="905" r="6.8" fill="#000080"/>
<circle cx="1252.86" cy="907.5" r="6.8" fill="#000080"/>
<circle cx="1304.2" cy="905" r="6.8" fill="#000080"/>
<circle cx="1355.54" cy="914.9" r="6.8" fill="#000080"/>
<circle cx="1406.88" cy="911" r="6.8" fill="#000080"/>
<circle cx="1458.22" cy="923.4" r="6.8" fill="#000080"/>
<path d="M1509.56 917.8 V932.8 M1502.76 917.8 H1516.36 M1502.76 932.8 H1516.36" stroke="#000080" stroke-width="2.8" fill="none"/>
<circle cx="1509.56" cy="925.3" r="6.8" fill="#000080"/>
<circle cx="1560.9" cy="920.1" r="6.8" fill="#000080"/>
<circle cx="1098.84" cy="883.75" r="6.8" fill="#93621f"/>
<circle cx="1150.18" cy="890" r="6.8" fill="#93621f"/>
<circle cx="1201.52" cy="892" r="6.8" fill="#93621f"/>
<circle cx="1252.86" cy="895" r="6.8" fill="#93621f"/>
<circle cx="1304.2" cy="895" r="6.8" fill="#93621f"/>
<circle cx="1355.54" cy="898" r="6.8" fill="#93621f"/>
<circle cx="1406.88" cy="900" r="6.8" fill="#93621f"/>
<path d="M1458.22 894.4 V913.6 M1451.42 894.4 H1465.02 M1451.42 913.6 H1465.02" stroke="#93621f" stroke-width="2.8" fill="none"/>
<circle cx="1458.22" cy="904" r="6.8" fill="#93621f"/>
<circle cx="1509.56" cy="900" r="6.8" fill="#93621f"/>
<circle cx="1560.9" cy="900" r="6.8" fill="#93621f"/>
<circle cx="1098.84" cy="900" r="6.8" fill="#000000"/>
<circle cx="1150.18" cy="892" r="6.8" fill="#000000"/>
<circle cx="1201.52" cy="888.75" r="6.8" fill="#000000"/>
<circle cx="1252.86" cy="884" r="6.8" fill="#000000"/>
<circle cx="1304.2" cy="875.6" r="6.8" fill="#000000"/>
<circle cx="1355.54" cy="884" r="6.8" fill="#000000"/>
<path d="M1406.88 863.7 V877.7 M1400.08 863.7 H1413.68 M1400.08 877.7 H1413.68" stroke="#000000" stroke-width="2.8" fill="none"/>
<circle cx="1406.88" cy="870.7" r="6.8" fill="#000000"/>
<circle cx="1458.22" cy="882" r="6.8" fill="#000000"/>
<circle cx="1509.56" cy="874.6" r="6.8" fill="#000000"/>
<circle cx="1560.9" cy="881.8" r="6.8" fill="#000000"/>
<path d="M1098.84 881 V912 M1092.04 881 H1105.64 M1092.04 912 H1105.64" stroke="#ff8000" stroke-width="2.8" fill="none"/>
<circle cx="1098.84" cy="896.5" r="6.8" fill="#ff8000"/>
<path d="M1150.18 893.6 V904.4 M1143.38 893.6 H1156.98 M1143.38 904.4 H1156.98" stroke="#ff8000" stroke-width="2.8" fill="none"/>
<circle cx="1150.18" cy="899" r="6.8" fill="#ff8000"/>
<circle cx="1201.52" cy="895" r="6.8" fill="#ff8000"/>
<path d="M1252.86 886.3 V913.7 M1246.06 886.3 H1259.66 M1246.06 913.7 H1259.66" stroke="#ff8000" stroke-width="2.8" fill="none"/>
<circle cx="1252.86" cy="900" r="6.8" fill="#ff8000"/>
<circle cx="1304.2" cy="898" r="6.8" fill="#ff8000"/>
<circle cx="1355.54" cy="898" r="6.8" fill="#ff8000"/>
<circle cx="1406.88" cy="898" r="6.8" fill="#ff8000"/>
<circle cx="1458.22" cy="904.5" r="6.8" fill="#ff8000"/>
<circle cx="1509.56" cy="900.6" r="6.8" fill="#ff8000"/>
<circle cx="1560.9" cy="898" r="6.8" fill="#ff8000"/>
<circle cx="1098.84" cy="890" r="6.8" fill="#aa00e6"/>
<path d="M1150.18 876 V886 M1143.38 876 H1156.98 M1143.38 886 H1156.98" stroke="#aa00e6" stroke-width="2.8" fill="none"/>
<circle cx="1150.18" cy="881" r="6.8" fill="#aa00e6"/>
<circle cx="1201.52" cy="878.75" r="6.8" fill="#aa00e6"/>
<circle cx="1252.86" cy="893" r="6.8" fill="#aa00e6"/>
<circle cx="1304.2" cy="893" r="6.8" fill="#aa00e6"/>
<circle cx="1355.54" cy="893" r="6.8" fill="#aa00e6"/>
<circle cx="1406.88" cy="893" r="6.8" fill="#aa00e6"/>
<circle cx="1458.22" cy="893" r="6.8" fill="#aa00e6"/>
<circle cx="1509.56" cy="894.8" r="6.8" fill="#aa00e6"/>
<circle cx="1560.9" cy="894.8" r="6.8" fill="#aa00e6"/>
<circle cx="1098.84" cy="901.9" r="6.8" fill="#00c000"/>
<circle cx="1150.18" cy="893.1" r="6.8" fill="#00c000"/>
<circle cx="1201.52" cy="900" r="6.8" fill="#00c000"/>
<circle cx="1252.86" cy="904.4" r="6.8" fill="#00c000"/>
<circle cx="1304.2" cy="904.4" r="6.8" fill="#00c000"/>
<circle cx="1355.54" cy="902.6" r="6.8" fill="#00c000"/>
<path d="M1406.88 881.2 V916.2 M1400.08 881.2 H1413.68 M1400.08 916.2 H1413.68" stroke="#00c000" stroke-width="2.8" fill="none"/>
<circle cx="1406.88" cy="898.7" r="6.8" fill="#00c000"/>
<circle cx="1458.22" cy="900" r="6.8" fill="#00c000"/>
<path d="M1509.56 902.4 V918.4 M1502.76 902.4 H1516.36 M1502.76 918.4 H1516.36" stroke="#00c000" stroke-width="2.8" fill="none"/>
<circle cx="1509.56" cy="910.4" r="6.8" fill="#00c000"/>
<path d="M1560.9 898.8 V912.8 M1554.1 898.8 H1567.7 M1554.1 912.8 H1567.7" stroke="#00c000" stroke-width="2.8" fill="none"/>
<circle cx="1560.9" cy="905.8" r="6.8" fill="#00c000"/>
<circle cx="1098.84" cy="893" r="6.8" fill="#ff0000"/>
<circle cx="1150.18" cy="899.4" r="6.8" fill="#ff0000"/>
<circle cx="1201.52" cy="895.6" r="6.8" fill="#ff0000"/>
<circle cx="1252.86" cy="891.25" r="6.8" fill="#ff0000"/>
<circle cx="1304.2" cy="893" r="6.8" fill="#ff0000"/>
<circle cx="1355.54" cy="893.5" r="6.8" fill="#ff0000"/>
<circle cx="1406.88" cy="893" r="6.8" fill="#ff0000"/>
<circle cx="1458.22" cy="890.2" r="6.8" fill="#ff0000"/>
<circle cx="1509.56" cy="890" r="6.8" fill="#ff0000"/>
<path d="M1560.9 863.5 V893.5 M1554.1 863.5 H1567.7 M1554.1 893.5 H1567.7" stroke="#ff0000" stroke-width="2.8" fill="none"/>
<circle cx="1560.9" cy="878.5" r="6.8" fill="#ff0000"/>
<circle cx="1098.84" cy="890" r="6.8" fill="#0000ff"/>
<circle cx="1150.18" cy="881.25" r="6.8" fill="#0000ff"/>
<circle cx="1201.52" cy="885" r="6.8" fill="#0000ff"/>
<path d="M1252.86 871.25 V898.75 M1246.06 871.25 H1259.66 M1246.06 898.75 H1259.66" stroke="#0000ff" stroke-width="2.8" fill="none"/>
<circle cx="1252.86" cy="885" r="6.8" fill="#0000ff"/>
<circle cx="1304.2" cy="891.25" r="6.8" fill="#0000ff"/>
<circle cx="1355.54" cy="885" r="6.8" fill="#0000ff"/>
<circle cx="1406.88" cy="888.9" r="6.8" fill="#0000ff"/>
<path d="M1458.22 866.2 V898.6 M1451.42 866.2 H1465.02 M1451.42 898.6 H1465.02" stroke="#0000ff" stroke-width="2.8" fill="none"/>
<circle cx="1458.22" cy="882.4" r="6.8" fill="#0000ff"/>
<circle cx="1509.56" cy="885" r="6.8" fill="#0000ff"/>
<circle cx="1560.9" cy="873.3" r="6.8" fill="#0000ff"/>
<line x1="1762.8" y1="72.9" x2="1810" y2="72.9" stroke="#0000ff" stroke-width="2.5" stroke-linecap="butt"/>
<circle cx="1786.3" cy="72.9" r="6.8" fill="#0000ff"/>
<text x="1836" y="83.4" font-size="31" text-anchor="start">1</text>
<line x1="1762.8" y1="131.59" x2="1810" y2="131.59" stroke="#ff0000" stroke-width="2.5" stroke-linecap="butt"/>
<circle cx="1786.3" cy="131.59" r="6.8" fill="#ff0000"/>
<text x="1836" y="142.09" font-size="31" text-anchor="start">2</text>
<line x1="1762.8" y1="190.28" x2="1810" y2="190.28" stroke="#00c000" stroke-width="2.5" stroke-linecap="butt"/>
<circle cx="1786.3" cy="190.28" r="6.8" fill="#00c000"/>
<text x="1836" y="200.78" font-size="31" text-anchor="start">3</text>
<line x1="1762.8" y1="248.97" x2="1810" y2="248.97" stroke="#aa00e6" stroke-width="2.5" stroke-linecap="butt"/>
<circle cx="1786.3" cy="248.97" r="6.8" fill="#aa00e6"/>
<text x="1836" y="259.47" font-size="31" text-anchor="start">4 (Isomer 1)</text>
<line x1="1762.8" y1="307.66" x2="1810" y2="307.66" stroke="#ff8000" stroke-width="2.5" stroke-linecap="butt"/>
<circle cx="1786.3" cy="307.66" r="6.8" fill="#ff8000"/>
<text x="1836" y="318.16" font-size="31" text-anchor="start">4 (Isomer 2)</text>
<line x1="1762.8" y1="366.35" x2="1810" y2="366.35" stroke="#000000" stroke-width="2.5" stroke-linecap="butt"/>
<circle cx="1786.3" cy="366.35" r="6.8" fill="#000000"/>
<text x="1836" y="376.85" font-size="31" text-anchor="start">5</text>
<line x1="1762.8" y1="425.04" x2="1810" y2="425.04" stroke="#93621f" stroke-width="2.5" stroke-linecap="butt"/>
<circle cx="1786.3" cy="425.04" r="6.8" fill="#93621f"/>
<text x="1836" y="435.54" font-size="31" text-anchor="start">6</text>
<line x1="1762.8" y1="483.73" x2="1810" y2="483.73" stroke="#000080" stroke-width="2.5" stroke-linecap="butt"/>
<circle cx="1786.3" cy="483.73" r="6.8" fill="#000080"/>
<text x="1836" y="494.23" font-size="31" text-anchor="start">7</text>
<line x1="1762.8" y1="542.42" x2="1810" y2="542.42" stroke="#600050" stroke-width="2.5" stroke-linecap="butt"/>
<circle cx="1786.3" cy="542.42" r="6.8" fill="#600050"/>
<text x="1836" y="552.92" font-size="31" text-anchor="start">8</text>
<line x1="1762.8" y1="601.11" x2="1810" y2="601.11" stroke="#a00000" stroke-width="2.5" stroke-linecap="butt"/>
<circle cx="1786.3" cy="601.11" r="6.8" fill="#a00000"/>
<text x="1836" y="611.61" font-size="31" text-anchor="start">9</text>
<line x1="1766.9" y1="646.9" x2="1813.8" y2="646.9" stroke="#a0a0a5" stroke-width="2.5" stroke-linecap="butt"/>
<rect x="1783.5" y="640.3" width="13.2" height="13.2" fill="#a0a0a5"/>
<text x="1840" y="657.9" font-size="31" text-anchor="start" textLength="84" lengthAdjust="spacingAndGlyphs">NECA</text>
</svg></body></html>
